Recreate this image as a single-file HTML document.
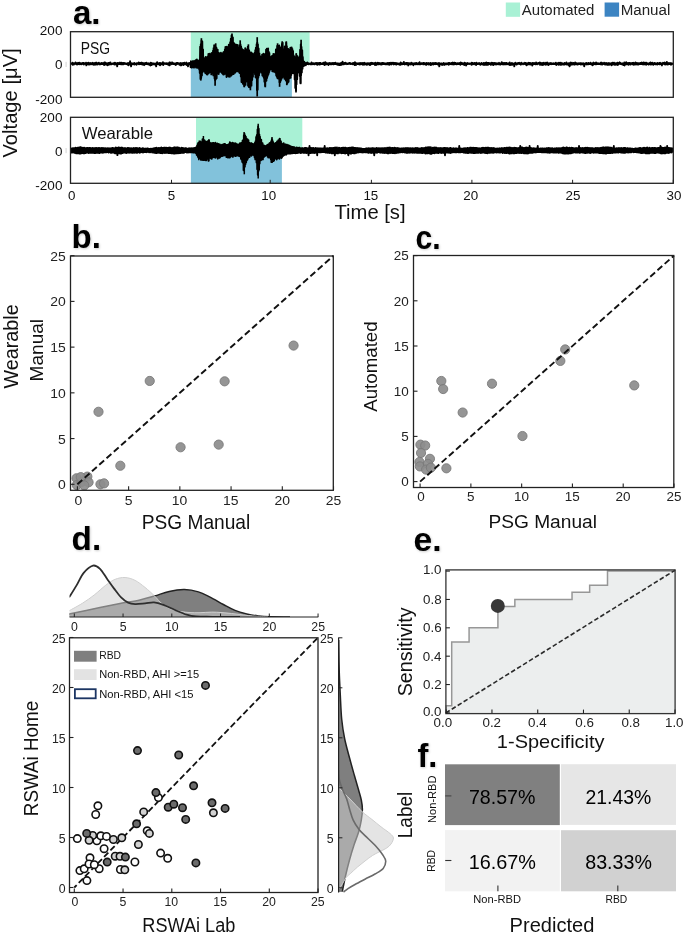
<!DOCTYPE html>
<html><head><meta charset="utf-8"><title>figure</title>
<style>
html,body{margin:0;padding:0;background:#fff;}
svg{display:block;will-change:transform;}
text{font-family:"Liberation Sans", sans-serif;}
</style></head>
<body>
<svg width="685" height="934" viewBox="0 0 685 934">
<defs><filter id="sh" x="-20%" y="-20%" width="150%" height="150%"><feDropShadow dx="0.7" dy="0.8" stdDeviation="0.9" flood-color="#000" flood-opacity="0.22"/></filter></defs>
<rect width="685" height="934" fill="#fff"/>
<rect x="505.8" y="2.5" width="14.3" height="14.3" fill="#a9f1d5"/>
<text x="521.87" y="14.9" font-size="14.83" textLength="72.5" lengthAdjust="spacingAndGlyphs" fill="#222">Automated</text>
<rect x="604.6" y="2.5" width="14.5" height="14.2" fill="#3c84c2"/>
<text x="620.66" y="15.3" font-size="14.39" textLength="49.65" lengthAdjust="spacingAndGlyphs" fill="#222">Manual</text>
<text x="72.93" y="24.18" font-size="33.09" textLength="27.54" lengthAdjust="spacingAndGlyphs" font-weight="bold" filter="url(#sh)">a.</text>
<rect x="190.8" y="31.7" width="118.8" height="32" fill="#a9f1d5"/>
<rect x="190.8" y="63.7" width="101.1" height="33.6" fill="#82c2db"/>
<polyline fill="none" stroke="#000" stroke-width="1.9" stroke-linejoin="round" points="71,63.14 71.33,63.84 71.65,63.46 72.03,63.82 72.32,62.68 72.64,64.85 72.91,63.38 73.18,64.12 73.56,63.36 73.87,64.49 74.14,63.32 74.46,63.86 74.8,63.21 75.16,63.86 75.5,62.48 75.8,63.91 76.08,62.81 76.41,64.25 76.76,63.63 77.07,64.56 77.41,63.11 77.8,64.05 78.15,62.83 78.55,64.08 78.85,63.02 79.17,64.35 79.45,62.74 79.75,64.11 80.13,63.12 80.51,64.05 80.89,63.59 81.27,64.37 81.55,63.5 81.88,64.13 82.18,63.07 82.52,63.72 82.87,62.87 83.14,63.79 83.51,62.94 83.83,64.54 84.17,63.49 84.46,63.79 84.73,63.35 85.04,63.7 85.42,63.44 85.73,63.95 86.01,62.59 86.34,65.39 86.62,63.44 86.9,64.13 87.29,63.36 87.56,63.77 87.95,63.09 88.26,64.47 88.63,62.67 88.92,63.93 89.32,63.04 89.68,64.66 90.01,63.61 90.31,63.83 90.67,63.07 91.06,63.89 91.37,63.62 91.67,64.17 92.05,63.33 92.42,64.34 92.77,62.81 93.1,64.32 93.46,63.16 93.78,64.73 94.17,63.64 94.45,64.1 94.82,63.01 95.18,64.68 95.51,63.63 95.86,63.78 96.25,62.58 96.54,64.24 96.84,63.65 97.16,64.58 97.55,63.29 97.93,64.28 98.32,62.95 98.58,63.71 98.87,62.62 99.2,63.73 99.53,63.36 99.9,64.41 100.24,63.7 100.57,64.23 100.93,63.14 101.27,64.07 101.62,62.99 102.01,63.94 102.39,63.26 102.78,63.88 103.06,63.23 103.36,64.19 103.71,63.43 104.07,65.08 104.35,62.53 104.74,64.86 105.07,62.56 105.39,63.78 105.7,63.52 105.96,64.24 106.29,63.16 106.62,63.77 107.01,63.31 107.31,65.41 107.68,63.66 108.06,64.04 108.36,62.9 108.72,64.89 108.99,63.46 109.38,64.34 109.74,62.67 110.12,64.35 110.43,62.39 110.71,64.19 111.01,63.42 111.3,63.95 111.6,63.67 111.89,64.25 112.16,63.7 112.49,63.82 112.82,63.44 113.14,63.82 113.52,63.14 113.91,64.19 114.28,63.47 114.59,64.6 114.87,62.8 115.16,64.17 115.53,63.08 115.83,64.41 116.16,63.34 116.55,64.3 116.88,63.65 117.19,66.34 117.51,62.99 117.84,63.82 118.14,63.18 118.4,64.06 118.7,63.06 119.05,64.11 119.43,63.29 119.71,64.08 120.06,62.59 120.41,64.04 120.78,63.23 121.15,64.32 121.53,62.6 121.88,64.4 122.15,63.32 122.53,64.16 122.87,63.06 123.14,64.41 123.5,62.95 123.77,63.72 124.07,63.28 124.36,63.93 124.75,63.11 125.11,63.72 125.45,63.55 125.75,63.91 126.06,63.61 126.35,63.74 126.71,63.47 127.04,64.19 127.32,63.38 127.7,63.97 128.03,63.02 128.33,65.27 128.72,63.5 129.05,64.54 129.33,63.39 129.69,64.41 130.07,61.28 130.4,63.71 130.7,63.35 131.08,66.34 131.44,63.54 131.8,63.98 132.1,63.28 132.44,64.17 132.76,63.67 133.14,63.91 133.52,63.7 133.81,64.22 134.2,62.87 134.59,64.5 134.92,63.66 135.25,63.91 135.6,63.66 135.88,63.9 136.19,63.41 136.49,64.73 136.79,63.13 137.08,63.93 137.46,63.27 137.85,63.71 138.14,63.61 138.41,63.97 138.71,62.55 139.03,64.28 139.36,63.31 139.66,64.12 139.94,62.85 140.24,63.72 140.53,63.17 140.91,64.12 141.18,62.77 141.5,63.91 141.77,62.63 142.14,64.65 142.44,63.43 142.79,63.94 143.15,63.08 143.49,64.6 143.86,63.55 144.16,65.17 144.46,63.09 144.73,64.47 145.07,63.37 145.34,64 145.66,62.86 145.99,63.94 146.29,62.78 146.55,63.95 146.91,63.29 147.29,63.95 147.56,63.37 147.85,64.29 148.21,63.29 148.52,63.71 148.81,63.52 149.2,64.8 149.49,63.6 149.88,64.38 150.2,63.32 150.47,65.44 150.78,62.69 151.18,64.52 151.49,63.14 151.75,65.12 152.07,63.32 152.33,64.12 152.64,63.4 152.93,63.79 153.31,63.42 153.63,64.33 154.02,63.5 154.29,64.29 154.66,63.68 154.93,63.89 155.23,63.68 155.53,65.11 155.87,63.63 156.17,66.34 156.54,62.96 156.8,64.17 157.13,62.25 157.43,64.14 157.76,63.35 158.12,63.88 158.49,63.28 158.8,64.07 159.07,63.37 159.34,64.74 159.68,62.92 160.08,65.34 160.35,63.12 160.67,64.14 160.99,63.04 161.37,64.38 161.65,63.43 161.96,64.16 162.25,63.69 162.63,64.2 162.94,62.2 163.23,64.95 163.58,63.42 163.96,63.72 164.34,63.21 164.63,63.84 164.97,63.17 165.29,63.97 165.66,63.43 166.01,63.8 166.32,63.44 166.66,64.05 166.95,63.16 167.24,63.74 167.53,63.49 167.81,64.5 168.15,63.53 168.5,63.92 168.8,63.17 169.14,65.23 169.46,62.36 169.75,65.38 170.04,62.4 170.41,63.75 170.8,63.35 171.13,63.8 171.52,62.98 171.85,64.19 172.15,62.33 172.48,63.9 172.87,63.6 173.26,64.02 173.53,63.16 173.88,63.99 174.16,63.6 174.54,64.16 174.83,63.58 175.14,64.35 175.44,63.5 175.78,65.09 176.05,63.54 176.38,63.98 176.69,63 177.04,64.12 177.36,62.87 177.65,63.83 178.02,63.33 178.3,63.81 178.62,63.15 178.89,64.09 179.17,63.59 179.44,64.84 179.75,63.39 180.15,63.81 180.52,63.11 180.91,65.45 181.19,63.37 181.5,65.18 181.79,63.31 182.07,64.02 182.46,63.58 182.76,64.2 183.05,62.95 183.43,65.01 183.8,63.14 184.11,64.24 184.45,62.6 184.84,64.36 185.16,63.56 185.5,64.19 185.87,63.35 186.14,63.85 186.43,62.58 186.79,65.16 187.05,63.36 187.37,63.78 187.75,63.41 188.02,66.34 188.33,63.25 188.67,64.08 188.96,63.21 189.35,64.23 189.63,62.99 190,64.23 190.3,62.66 190.61,67.06 190.93,61.32 191.29,67.48 191.68,61.84 192.01,67.54 192.31,61.75 192.67,66.92 193.01,60.98 193.29,67.04 193.64,61.22 193.99,67.63 194.27,61.3 194.58,66.63 194.96,60.79 195.32,66.56 195.69,60.14 196.02,67.51 196.34,60.17 196.62,67.02 196.89,59.56 197.25,67.68 197.63,60.35 197.93,67.62 198.25,60.62 198.58,67.79 198.93,60.49 199.22,69.38 199.49,61.16 199.78,72.94 200.17,46.59 200.48,79.02 200.79,44.12 201.17,77.99 201.53,40.74 201.92,75.37 202.29,41.42 202.67,72.08 203.03,49.35 203.33,70.39 203.68,58.03 204.07,70.71 204.33,58.12 204.72,71.68 205,58.44 205.27,73.07 205.62,57 205.98,71.72 206.32,57.11 206.69,74.38 207.08,57.22 207.45,74.5 207.84,56.54 208.13,71.88 208.4,54.03 208.77,73.33 209.15,54.37 209.45,71.6 209.73,53.82 210.02,72.13 210.34,55.87 210.63,72 210.99,54.64 211.3,74.42 211.63,52.89 211.98,71.92 212.29,52.74 212.66,73.29 213.02,50.72 213.31,75.4 213.59,48.13 213.87,74.71 214.16,45.17 214.56,78.46 214.88,46.34 215.25,80.32 215.58,47.05 215.96,79.11 216.35,47.61 216.64,78.26 216.97,49.09 217.32,72.82 217.68,49.6 218.05,73.52 218.36,53.44 218.68,73.96 218.95,52.92 219.22,71.68 219.52,53.56 219.85,71.86 220.23,55.17 220.56,71.91 220.92,52.79 221.27,71.6 221.58,54.13 221.95,72.93 222.31,53.38 222.64,73.75 222.98,52.92 223.3,74.59 223.6,52.06 223.9,74.45 224.28,51.66 224.56,73.31 224.87,49.52 225.15,73.9 225.44,46.88 225.8,73.43 226.19,50.46 226.51,77.11 226.88,46.7 227.2,74.5 227.55,49.42 227.84,75.6 228.11,47.22 228.47,76.6 228.8,44.64 229.13,74.17 229.47,44.85 229.83,76.77 230.16,42.25 230.52,74.65 230.81,38.67 231.19,75.62 231.55,35.4 231.9,74.82 232.23,39.83 232.57,72.69 232.89,37.45 233.25,74.17 233.55,42.59 233.87,73.86 234.19,43.51 234.58,72.09 234.93,44.1 235.24,72.61 235.64,49.09 235.97,71.24 236.34,44.59 236.67,70.69 237.01,46.69 237.37,71.33 237.72,45.04 238.05,70.66 238.44,48.36 238.79,71.8 239.16,47.35 239.55,73.01 239.82,45.35 240.14,73.03 240.46,44.43 240.82,76.6 241.12,46.49 241.48,81.94 241.81,48.41 242.18,80.51 242.47,50.98 242.84,83.86 243.19,49.94 243.52,81.23 243.92,50.93 244.26,86.05 244.64,50.39 244.94,83.63 245.22,48.24 245.53,84.87 245.83,49.81 246.13,81.63 246.42,51.15 246.77,80.13 247.07,49.16 247.4,81.42 247.75,46.74 248.06,85.67 248.44,49.49 248.81,86.99 249.18,50.48 249.55,86.47 249.82,52.29 250.21,87.48 250.5,52.73 250.79,83.41 251.15,52.42 251.44,85.65 251.8,53.75 252.19,80.01 252.55,53.45 252.93,76.84 253.31,56.83 253.67,72.15 254.03,54.02 254.41,71.59 254.71,52.72 254.99,74.36 255.26,50.09 255.54,77.15 255.87,47.81 256.25,78.02 256.63,44.32 256.96,89.92 257.34,42.65 257.66,89.62 257.93,44.56 258.28,77.8 258.63,48.47 259.01,75.36 259.41,53.39 259.73,72.83 260,56.05 260.35,69.1 260.73,57.32 261.05,71.22 261.42,56.99 261.74,72.63 262.08,54.72 262.38,75.6 262.7,54.91 263,76.02 263.39,53.7 263.76,77.81 264.06,54.13 264.41,81.64 264.77,54.35 265.13,85.89 265.47,53.68 265.77,79.29 266.06,49.63 266.41,80.81 266.77,48.81 267.12,77.9 267.47,48.93 267.81,75.84 268.1,48.35 268.42,74.34 268.7,51.67 268.97,72.77 269.36,52.9 269.67,70.82 270.04,56.56 270.33,68.05 270.65,58.51 270.97,69.06 271.36,58.33 271.7,68.76 271.98,56.06 272.32,71.26 272.64,57.26 272.96,71.3 273.35,53.99 273.67,71.66 273.95,54.23 274.24,71.52 274.51,55.6 274.86,72.04 275.25,53.69 275.63,72.81 275.9,49.55 276.2,75.52 276.48,51.16 276.85,76.69 277.23,45.87 277.5,78.26 277.86,46.54 278.25,78.48 278.64,45.59 278.9,78.78 279.25,45.45 279.53,82.15 279.89,49.31 280.27,82.11 280.54,47.57 280.88,80.59 281.23,47.9 281.6,78.75 281.95,44 282.27,77.54 282.64,42.77 283,76.85 283.31,49.32 283.7,75.9 284.07,49.19 284.42,78.8 284.79,46.54 285.1,77.97 285.48,46.6 285.83,80.52 286.21,42.68 286.51,78.65 286.81,46.14 287.15,83.59 287.54,49.87 287.91,82.5 288.29,48.95 288.59,81.75 288.96,49.66 289.34,78.18 289.62,49.85 289.99,76.71 290.35,47.71 290.65,77.74 291,49.48 291.29,75.04 291.65,47.56 291.98,72.97 292.35,49.02 292.64,73.09 293.03,50.89 293.36,71.11 293.7,55.36 293.99,73.45 294.35,56.75 294.69,79.38 295.02,59 295.29,87.87 295.6,57.3 295.95,90.38 296.23,53.84 296.54,84.2 296.81,55.63 297.2,79.31 297.53,56.32 297.83,71.52 298.15,57.67 298.52,71.79 298.91,61.06 299.18,72.62 299.46,57.3 299.73,75.97 300.11,49.75 300.5,82.95 300.78,44.36 301.09,75.36 301.48,46.86 301.82,72.38 302.21,50.2 302.53,68.8 302.81,56.92 303.21,66.05 303.48,61.59 303.79,66.11 304.17,61.76 304.44,65.47 304.8,62.38 305.19,63.77 305.47,63.66 305.78,65.26 306.14,63.28 306.42,64.06 306.71,63.68 306.97,64.07 307.26,62.35 307.65,64.04 308.03,63.28 308.42,64.25 308.77,63.17 309.09,63.88 309.38,63.66 309.71,63.92 310.09,63.64 310.39,64.38 310.7,63.35 311.08,64.37 311.48,62.5 311.77,64.19 312.07,63.68 312.47,64.14 312.85,63.29 313.12,64.01 313.43,63.59 313.73,63.72 314,63.33 314.32,64.4 314.61,63.4 314.98,63.86 315.27,63.47 315.6,63.83 315.89,62.98 316.23,64.37 316.5,63.63 316.77,64.37 317.08,63.04 317.35,64.81 317.68,63.37 318.05,64.07 318.33,63.14 318.67,64.34 319,63 319.38,64.42 319.74,62.96 320.11,64.45 320.44,62.96 320.71,63.77 321,63.58 321.38,63.98 321.65,63.57 322,64.11 322.33,63.62 322.69,63.99 322.97,62.99 323.25,63.73 323.53,62.69 323.87,64.42 324.16,63.04 324.48,65.08 324.81,62.56 325.12,64.66 325.43,62.13 325.81,64.43 326.19,63.01 326.57,63.96 326.89,63.31 327.17,64.17 327.5,63.37 327.86,63.75 328.21,63.24 328.48,64.98 328.78,63.49 329.16,64.18 329.46,63.06 329.76,63.79 330.11,63.11 330.44,64.31 330.77,63.36 331.05,63.78 331.37,63.59 331.71,64.18 332.05,62.91 332.41,64.11 332.74,63.18 333.04,64.18 333.37,63.1 333.68,64.29 333.98,63.04 334.37,63.97 334.74,63.58 335.06,63.91 335.38,62.78 335.67,64.1 336.03,63.39 336.38,64.19 336.76,63.38 337.12,64.42 337.45,63.49 337.73,64.71 337.99,63.62 338.39,64.57 338.7,63.44 339.02,65.01 339.34,63.62 339.68,64.24 339.99,63.43 340.31,64.95 340.61,63.21 340.89,64.38 341.2,63.06 341.49,64.75 341.87,63.51 342.2,63.71 342.57,61.72 342.9,64.27 343.21,63.19 343.6,64.39 343.94,63.22 344.27,64.07 344.66,63.02 345,63.87 345.31,62.61 345.62,63.93 345.99,63.41 346.34,63.73 346.74,63.22 347.04,64.15 347.37,63.55 347.72,64.09 348.11,63.58 348.48,63.85 348.83,63.18 349.18,63.71 349.47,62.93 349.82,63.71 350.21,63.14 350.5,64.01 350.77,63.4 351.15,63.94 351.52,63.61 351.82,63.74 352.13,63.47 352.52,64.15 352.83,63.13 353.21,63.9 353.6,62.92 353.87,64.04 354.25,63.19 354.55,65 354.94,62.22 355.26,63.75 355.55,63.25 355.92,64.95 356.21,63.46 356.51,64.03 356.79,63.12 357.06,63.84 357.43,63.43 357.73,64.1 358,63.42 358.36,64.22 358.66,63.54 359.03,64 359.32,63.12 359.71,64.54 360.1,63.27 360.38,63.71 360.68,63.05 360.97,64.22 361.27,63.48 361.6,63.94 361.97,63.04 362.27,64.34 362.55,63.18 362.9,64.85 363.24,63.24 363.51,64.29 363.81,63.03 364.12,64.45 364.49,62.81 364.79,64.58 365.14,63.41 365.49,64.23 365.79,63.38 366.08,64.2 366.46,63.6 366.73,64.74 367.02,63.51 367.33,64.31 367.62,63.28 367.91,64.43 368.27,63.68 368.63,63.72 368.9,63.2 369.2,64.42 369.57,63.37 369.84,65.12 370.16,63.68 370.44,64.94 370.76,62.86 371.13,64.13 371.45,62.82 371.78,64.04 372.07,63.69 372.44,63.9 372.77,62.85 373.07,63.88 373.38,63.36 373.66,63.93 374.01,63.67 374.34,64.19 374.65,63.32 374.99,65.01 375.36,62.72 375.71,64.03 376.03,63.58 376.34,64.94 376.63,63.24 376.98,63.9 377.26,63.39 377.55,64.36 377.81,62.69 378.17,63.75 378.51,63.16 378.8,64.18 379.07,62.94 379.45,64.16 379.75,63.69 380.12,64.06 380.42,63.36 380.81,64.57 381.17,63.22 381.46,64.65 381.77,63.18 382.14,64.31 382.41,62.92 382.77,64.08 383.16,62.99 383.46,63.73 383.74,63.56 384.13,64.06 384.4,63.33 384.66,63.86 385.04,63.55 385.39,64.38 385.71,63.36 386.08,64.3 386.37,63.51 386.68,64.38 386.95,63.4 387.34,64.36 387.73,62.88 388,63.92 388.35,63.47 388.67,64.52 388.98,63 389.27,64.84 389.59,62.94 389.93,64.19 390.26,63.14 390.55,63.96 390.89,62.78 391.16,64.55 391.46,62.93 391.8,63.76 392.13,63.49 392.41,63.84 392.78,62.79 393.06,64.03 393.42,62.79 393.71,64.44 394.05,63.65 394.32,64.05 394.63,62.89 394.94,63.78 395.26,63.06 395.59,64.29 395.97,63.21 396.34,64.65 396.71,63.28 397.1,64.14 397.37,63.48 397.74,63.88 398.13,63.49 398.45,64.15 398.79,63.61 399.16,63.79 399.5,63.47 399.78,64.67 400.12,63.29 400.38,64.81 400.66,62.47 400.93,63.71 401.31,63.44 401.59,64.3 401.91,63.12 402.21,64.35 402.6,63.55 402.91,63.8 403.25,63.27 403.59,64.1 403.85,61.98 404.14,64.19 404.44,63.6 404.78,64.47 405.17,63.54 405.53,63.71 405.9,63.12 406.2,64.4 406.58,62.85 406.94,64.08 407.28,63.33 407.59,64.16 407.9,62.9 408.21,65.47 408.51,63.51 408.89,63.99 409.21,63.23 409.48,63.93 409.79,63.59 410.1,64.53 410.44,63.37 410.83,63.9 411.2,62.6 411.53,64.28 411.83,63.69 412.13,63.84 412.42,63.37 412.8,63.96 413.09,63.54 413.36,65.39 413.74,63.52 414.08,64 414.43,63.33 414.79,63.91 415.11,63.46 415.42,64.24 415.77,63.34 416.07,64.36 416.33,63 416.61,64.08 416.97,63.57 417.25,63.96 417.52,63.45 417.87,64.34 418.22,63.26 418.51,64.05 418.88,63.62 419.27,64.26 419.57,62.28 419.84,63.93 420.19,63.61 420.48,64.32 420.76,63.38 421.09,63.76 421.38,63.16 421.66,63.93 422.05,63.62 422.35,63.84 422.68,63.34 423,64.16 423.38,62.93 423.73,64.37 424.11,62.97 424.5,64.01 424.84,63.63 425.16,64.2 425.46,63.65 425.85,64.65 426.19,63.03 426.49,64.8 426.86,63.59 427.24,64.28 427.6,63.16 427.98,64.12 428.36,63.03 428.65,64.58 429.04,63.66 429.43,63.84 429.82,63.12 430.11,64.57 430.38,62.98 430.76,64.95 431.03,63.6 431.3,64.86 431.59,63.44 431.99,63.83 432.37,63.19 432.69,64.22 433.04,63.11 433.32,64.57 433.65,63.21 434.04,64 434.4,63.65 434.68,64.11 435.01,63.05 435.27,64.16 435.62,62.97 436.02,63.93 436.38,63.27 436.77,64.04 437.08,63.42 437.35,63.9 437.73,63.68 438.03,64.61 438.31,63.12 438.58,64.66 438.89,63.24 439.28,66.34 439.64,63.26 440.04,64.33 440.38,63.68 440.7,64.34 441.04,63.46 441.38,64.22 441.73,63.58 442.08,65.14 442.41,63.64 442.75,64.06 443.08,63.53 443.45,64.15 443.8,63.1 444.07,64.94 444.44,63.57 444.74,64.01 445.05,63.46 445.33,64.46 445.72,63.48 446.09,64.38 446.38,63.45 446.67,64.27 446.98,63.62 447.32,63.78 447.61,63.6 447.9,64.22 448.18,62.91 448.5,64.69 448.84,63.57 449.16,63.84 449.46,62.97 449.77,64.22 450.11,63.35 450.47,63.9 450.82,63.59 451.14,63.92 451.46,62.87 451.81,64.35 452.13,63.37 452.51,64.28 452.84,62.57 453.2,63.79 453.47,63.37 453.84,64.46 454.13,62.71 454.41,64.27 454.75,62.84 455.07,64.04 455.43,63 455.8,64.13 456.08,63.33 456.48,64.39 456.78,63.52 457.11,64.17 457.43,63.21 457.8,63.88 458.1,63.64 458.42,63.91 458.74,63.2 459.03,64.02 459.37,63.2 459.69,63.88 460,63.54 460.35,64.86 460.7,62.34 461.08,64.13 461.4,63.58 461.67,63.86 461.96,63.01 462.29,64.1 462.64,63.58 462.92,64.14 463.22,63.48 463.61,63.87 463.96,63.64 464.24,65.13 464.6,62.59 464.89,64.03 465.2,63.38 465.5,63.84 465.79,63.18 466.06,65.46 466.41,63.57 466.73,64.52 467.05,63.57 467.33,63.99 467.73,63.01 468.04,64 468.37,63.46 468.74,63.82 469.08,63.42 469.46,63.89 469.76,63.56 470.15,63.78 470.54,63.59 470.86,63.88 471.22,63.24 471.49,64.75 471.77,62.69 472.1,64.07 472.43,62.99 472.77,64.25 473.08,63.51 473.47,64.04 473.85,63.22 474.12,64.24 474.4,62.95 474.73,63.72 475.06,63.12 475.38,63.73 475.66,63.62 476.04,65.03 476.43,62.63 476.78,63.79 477.15,63.43 477.46,64.13 477.77,63.5 478.06,63.88 478.43,63.65 478.77,63.93 479.04,63.02 479.35,64.39 479.68,63.62 479.99,63.75 480.27,63.67 480.55,64.77 480.84,63.56 481.23,64.14 481.6,63 481.98,63.8 482.33,63.43 482.7,64.58 483.06,63.49 483.41,64.02 483.69,63.03 484.05,65.07 484.42,63.15 484.79,64.08 485.09,62.98 485.37,63.9 485.74,63.69 486.03,64.96 486.33,62.38 486.68,63.77 487.05,63.45 487.42,64.66 487.7,63.04 488.04,64.73 488.41,63 488.69,63.72 489.01,63.17 489.3,64.15 489.68,63.33 489.98,64.07 490.3,63.12 490.65,64.72 491.03,63.51 491.34,64.18 491.72,62.71 492.05,64.59 492.38,63.31 492.66,63.73 492.93,63.04 493.3,65.12 493.61,63.08 493.94,64.2 494.33,63 494.67,64.31 495.07,63.12 495.38,64.44 495.73,63.11 496.13,64.13 496.5,63.39 496.86,64.47 497.22,63.7 497.5,63.88 497.89,63.2 498.16,64.39 498.52,63.39 498.82,64.12 499.14,62.83 499.49,63.83 499.89,63.47 500.17,64.68 500.54,63.55 500.88,64.29 501.16,63.67 501.43,64.1 501.75,62.19 502.05,64.05 502.34,63.42 502.64,64.34 502.96,63.24 503.34,63.82 503.71,63.02 504,64.57 504.32,62.86 504.62,64.05 505.01,63.21 505.31,63.8 505.58,63.34 505.97,64.46 506.26,63.01 506.61,64.05 506.99,63.3 507.38,64.06 507.73,63.61 508.09,64.35 508.41,63.51 508.79,64.28 509.12,63.07 509.43,64.94 509.75,62.52 510.09,63.72 510.43,63.53 510.8,64.96 511.16,63.68 511.54,64.48 511.91,62.96 512.27,64.79 512.61,63.66 512.99,63.94 513.28,63.66 513.67,63.99 513.98,63.63 514.29,66.34 514.64,63.39 514.96,64.11 515.33,62.6 515.62,64 515.93,63.32 516.3,64.45 516.68,63.43 517.04,64.46 517.37,63.51 517.73,63.81 518.05,62.9 518.43,63.77 518.8,63.18 519.07,63.84 519.35,62.82 519.68,63.99 519.97,63.3 520.33,64.01 520.65,63.4 520.95,64.67 521.31,62.71 521.69,63.88 522.05,63.32 522.43,63.87 522.77,63.65 523.12,64.32 523.43,63.34 523.81,63.81 524.13,63.47 524.5,63.89 524.89,62.78 525.27,64.32 525.55,63.04 525.84,64 526.23,63.34 526.55,65.24 526.86,63.26 527.13,64.87 527.47,63.64 527.84,63.76 528.11,63.13 528.41,64.22 528.8,62.84 529.09,63.79 529.41,63.06 529.7,64.24 530.04,63.08 530.31,64.48 530.58,63.1 530.94,63.82 531.29,63.46 531.67,64.4 531.95,63.57 532.26,65.64 532.63,63.04 532.91,64.51 533.28,63.51 533.67,63.75 534.02,62.92 534.32,64.1 534.59,63.69 534.94,64.01 535.31,63.32 535.68,64.38 536.07,62.52 536.44,63.72 536.78,62.8 537.06,64.36 537.36,63.64 537.63,63.75 538,63.4 538.29,63.79 538.57,62.95 538.84,63.82 539.22,63.54 539.52,63.95 539.81,62.38 540.07,64.83 540.35,63.41 540.67,64.53 541.02,62.9 541.39,64.88 541.76,63.67 542.14,63.86 542.52,63.08 542.88,65.13 543.18,63.39 543.5,64.18 543.85,62.77 544.25,64.16 544.55,63.7 544.84,64.38 545.23,63.21 545.61,64.7 545.94,62.81 546.29,64.45 546.63,63.35 546.98,63.78 547.36,62.58 547.75,64.5 548.05,63.39 548.35,65.1 548.74,63.41 549.1,64.33 549.46,63.7 549.81,64.21 550.11,62.85 550.46,63.91 550.82,63.63 551.08,63.93 551.37,63.16 551.72,64.2 552.09,63.58 552.41,63.97 552.73,63.66 553.04,63.99 553.31,63.49 553.68,64.12 553.98,63.31 554.26,63.73 554.6,63.5 554.88,64.05 555.19,63.25 555.47,64.4 555.84,62.64 556.2,64.94 556.57,63.69 556.85,64.33 557.22,63.57 557.51,64.33 557.8,63.27 558.13,64.12 558.4,63.11 558.67,64.78 558.95,62.78 559.23,63.96 559.51,63.62 559.79,64.41 560.11,62.99 560.41,64.03 560.75,62.64 561.02,64.93 561.36,63.68 561.65,64.1 561.95,63.1 562.22,64.04 562.53,63.45 562.81,64.64 563.14,63.66 563.47,63.79 563.79,63.66 564.12,64.52 564.47,63.03 564.84,64.64 565.15,63.39 565.49,63.94 565.77,63.67 566.05,63.87 566.41,62.46 566.76,64.48 567.15,63.63 567.54,64.45 567.94,63.39 568.23,64.02 568.55,63.47 568.87,65.36 569.22,63.12 569.6,66.34 569.94,63.67 570.3,64.43 570.59,62.58 570.88,64.85 571.22,63.54 571.5,63.85 571.83,62.63 572.2,64.45 572.5,63.12 572.89,63.94 573.15,63.58 573.53,64.23 573.87,63.06 574.2,64.67 574.5,63.26 574.88,64.43 575.17,62.55 575.46,64.35 575.75,63.65 576.11,64.33 576.47,63.21 576.84,64.22 577.16,63.28 577.45,64.63 577.82,63.63 578.11,64.4 578.5,63.34 578.81,63.98 579.18,63.4 579.48,64.04 579.76,63.17 580.1,64.08 580.44,63.12 580.73,64.51 580.99,63.54 581.39,64.05 581.76,63.16 582.15,64.43 582.52,63.55 582.86,64.18 583.24,63.36 583.57,63.93 583.87,63.65 584.23,66.34 584.52,63.61 584.79,64.74 585.18,63.36 585.51,63.77 585.83,63.24 586.11,63.77 586.38,63.04 586.75,64.42 587.06,63.31 587.4,63.72 587.68,63.49 587.98,64.31 588.35,63.03 588.7,64.19 589.07,63.67 589.41,63.99 589.7,63.45 590,63.86 590.32,62.75 590.67,63.92 590.98,63.11 591.36,64.48 591.67,63.45 591.96,64.14 592.33,63.38 592.64,65.33 593,62.92 593.27,64.01 593.55,62.57 593.84,64.26 594.17,63.13 594.51,63.78 594.78,63.16 595.08,63.98 595.37,63.41 595.74,64.38 596.06,62.43 596.34,64.38 596.69,63.67 597.07,63.88 597.4,63.33 597.76,64.08 598.08,63.18 598.47,64.04 598.78,63.66 599.05,64.05 599.38,63.52 599.75,64.05 600.06,63.38 600.34,64.04 600.7,62.68 601.09,64.6 601.39,62.76 601.67,63.93 602.06,62.83 602.36,64.45 602.69,63.36 602.99,63.72 603.35,63.49 603.73,64.06 604.07,62.67 604.45,63.77 604.76,63.05 605.07,64.69 605.38,63.49 605.76,63.92 606.11,62.93 606.5,64.42 606.89,63.56 607.19,64.8 607.5,63.53 607.81,64 608.12,63.05 608.4,64.76 608.77,63.31 609.14,64.56 609.47,63.14 609.85,64.68 610.16,63.7 610.42,64 610.72,63.5 611.01,63.81 611.32,63.21 611.67,65.25 612,62.9 612.38,64.33 612.66,62.73 612.98,64.35 613.36,63.49 613.68,64.09 614.03,62.75 614.37,64.73 614.73,63.46 615.1,63.82 615.42,63.53 615.71,64.77 616.1,63.16 616.49,63.96 616.79,63.23 617.13,64.64 617.48,62.76 617.82,65 618.11,63.05 618.49,64.15 618.87,63.67 619.26,63.84 619.65,62.3 619.93,63.8 620.3,62.97 620.6,64.11 620.93,63.44 621.24,63.76 621.6,63.66 621.89,64.21 622.27,63.46 622.64,64.54 622.99,63.54 623.27,64.95 623.59,63.5 623.94,63.83 624.27,62.35 624.63,65.46 624.92,63.37 625.23,64.28 625.52,63.36 625.85,63.92 626.18,62.19 626.56,64.35 626.85,63.42 627.13,63.9 627.52,63.24 627.83,64.05 628.15,63 628.41,64.78 628.77,63.18 629.09,64.44 629.39,62.86 629.78,64.03 630.09,63.06 630.45,64.64 630.84,63.12 631.11,63.9 631.48,63.17 631.81,63.8 632.2,63.26 632.54,64.36 632.85,63.07 633.15,64.29 633.47,62.83 633.77,64.81 634.14,63.2 634.43,64.55 634.8,63.44 635.1,64.08 635.46,62.46 635.84,64.55 636.23,63.34 636.61,63.87 636.88,62.99 637.27,64.49 637.55,63.61 637.89,63.8 638.18,63.35 638.57,64.52 638.96,63.15 639.26,63.96 639.65,63.6 639.94,64.09 640.3,63.01 640.57,63.99 640.94,63.11 641.28,64.03 641.6,62.58 641.93,64.16 642.22,63.01 642.59,64.38 642.92,62.62 643.28,63.74 643.64,62.41 644.02,64.61 644.33,63.36 644.7,64.07 645.07,62.78 645.43,63.76 645.78,63.05 646.08,64.79 646.35,62.78 646.72,64.17 647.1,63.15 647.38,64.06 647.65,63.65 647.98,64.02 648.27,63.59 648.6,64.65 648.9,63.42 649.28,64.14 649.68,62.99 650.04,64.08 650.42,62.5 650.7,64.64 650.98,63.61 651.32,63.9 651.6,63.32 651.97,64.19 652.3,62.69 652.57,64.37 652.89,63.51 653.28,64.75 653.56,63.58 653.89,64.01 654.18,63.08 654.47,64.02 654.77,63.01 655.13,64.2 655.47,63.3 655.85,64.27 656.21,63.69 656.58,64.18 656.96,63.21 657.28,64.55 657.56,63.01 657.88,63.84 658.24,63.4 658.55,63.91 658.95,63.19 659.26,64.37 659.57,63.3 659.87,63.78 660.21,62.83 660.6,64.02 660.93,63.11 661.28,64.45 661.67,63.64 661.93,65.47 662.22,63.4 662.58,63.72 662.96,62.79 663.23,63.75 663.55,63.19 663.81,63.81 664.2,62.75 664.49,64.36 664.86,62.57 665.24,64.61 665.55,63.1 665.82,63.84 666.21,62.93 666.5,64.4 666.85,61.85 667.19,64.31 667.48,63.59 667.86,64.53 668.15,63.51 668.52,64.01 668.85,63.01 669.18,64.08 669.45,63.31 669.75,63.93 670.04,63.12 670.35,64.11 670.65,63.15 670.98,64.8 671.32,63.6 671.63,63.93 671.98,63.24 672.37,63.96 672.65,63.52"/>
<line x1="201.4" y1="63.7" x2="201.4" y2="38.2" stroke="#000" stroke-width="1.7"/>
<line x1="215.7" y1="63.7" x2="215.7" y2="43.3" stroke="#000" stroke-width="1.7"/>
<line x1="232" y1="63.7" x2="232" y2="33.6" stroke="#000" stroke-width="1.7"/>
<line x1="240.2" y1="63.7" x2="240.2" y2="40.3" stroke="#000" stroke-width="1.7"/>
<line x1="257.2" y1="63.7" x2="257.2" y2="37.2" stroke="#000" stroke-width="1.7"/>
<line x1="301.1" y1="63.7" x2="301.1" y2="39.8" stroke="#000" stroke-width="1.7"/>
<line x1="282.2" y1="63.7" x2="282.2" y2="41.3" stroke="#000" stroke-width="1.7"/>
<line x1="286.3" y1="63.7" x2="286.3" y2="41.3" stroke="#000" stroke-width="1.7"/>
<line x1="277.6" y1="63.7" x2="277.6" y2="43.3" stroke="#000" stroke-width="1.7"/>
<line x1="248.4" y1="63.7" x2="248.4" y2="44.3" stroke="#000" stroke-width="1.7"/>
<line x1="200.8" y1="63.7" x2="200.8" y2="80.6" stroke="#000" stroke-width="1.7"/>
<line x1="215.1" y1="63.7" x2="215.1" y2="85.7" stroke="#000" stroke-width="1.7"/>
<line x1="244.3" y1="63.7" x2="244.3" y2="87.3" stroke="#000" stroke-width="1.7"/>
<line x1="250.4" y1="63.7" x2="250.4" y2="90.3" stroke="#000" stroke-width="1.7"/>
<line x1="257.2" y1="63.7" x2="257.2" y2="96.5" stroke="#000" stroke-width="1.7"/>
<line x1="265.3" y1="63.7" x2="265.3" y2="87.3" stroke="#000" stroke-width="1.7"/>
<line x1="279.6" y1="63.7" x2="279.6" y2="86.8" stroke="#000" stroke-width="1.7"/>
<line x1="286.8" y1="63.7" x2="286.8" y2="85.2" stroke="#000" stroke-width="1.7"/>
<line x1="296" y1="63.7" x2="296" y2="92.4" stroke="#000" stroke-width="1.7"/>
<line x1="300.6" y1="63.7" x2="300.6" y2="84.2" stroke="#000" stroke-width="1.7"/>
<rect x="70.5" y="31.7" width="602.8" height="65.6" fill="none" stroke="#222" stroke-width="1.3"/>
<rect x="196" y="117.3" width="106.3" height="33" fill="#a9f1d5"/>
<rect x="190.9" y="150.3" width="91" height="33" fill="#82c2db"/>
<polyline fill="none" stroke="#000" stroke-width="1.9" stroke-linejoin="round" points="71,148.16 71.28,152.53 71.62,148.45 71.98,152.66 72.26,148.16 72.62,152.25 72.88,148.41 73.17,152.31 73.56,148.26 73.92,152.49 74.27,148.12 74.55,152.84 74.93,148.31 75.26,152.62 75.59,147.67 75.98,153.25 76.26,147.87 76.61,153.22 77.01,148.18 77.38,152.73 77.65,147.67 77.96,153.33 78.32,147.9 78.64,152.69 79,147.35 79.28,153.57 79.56,147.77 79.82,152.76 80.2,147.21 80.59,153.49 80.93,147.25 81.32,153.26 81.65,147.71 81.96,153.17 82.26,147.92 82.59,153.05 82.88,147.73 83.24,153.27 83.58,148.02 83.91,152.91 84.22,147.68 84.55,153.18 84.88,148.03 85.19,153.13 85.48,148.17 85.83,153 86.18,148.19 86.5,152.39 86.83,147.94 87.2,152.51 87.48,147.89 87.81,152.59 88.13,147.99 88.51,152.95 88.83,148.32 89.12,152.36 89.5,147.95 89.88,152.91 90.17,148.02 90.45,152.91 90.77,148.15 91.03,152.51 91.3,148.31 91.61,152.75 91.89,148.55 92.24,152.46 92.62,147.89 92.96,152.7 93.23,148.3 93.57,152.67 93.86,148.28 94.17,153.02 94.57,148.31 94.86,152.79 95.13,147.87 95.43,152.97 95.83,148.41 96.12,152.87 96.5,148.02 96.87,152.45 97.23,148.08 97.5,152.77 97.77,148.35 98.08,152.75 98.38,147.88 98.78,152.52 99.11,148.14 99.4,153.11 99.71,147.97 100.01,152.42 100.32,148.37 100.66,152.59 101.03,148.23 101.42,152.58 101.71,148.03 102.03,152.58 102.4,148.22 102.71,152.79 103,147.9 103.36,152.56 103.65,148.5 104,152.33 104.29,148.24 104.62,152.33 104.9,148.36 105.18,152.29 105.52,148.31 105.86,152.2 106.23,148.37 106.54,152.33 106.91,148.34 107.26,152.02 107.65,148.3 108.03,152.12 108.36,148.75 108.68,152.59 109.02,148.2 109.4,152.26 109.71,148.68 110.05,152.14 110.36,148.51 110.74,152.73 111.06,148.12 111.45,152.75 111.74,148.55 112.08,152.66 112.36,148.07 112.73,152.61 113.12,148.3 113.49,152.52 113.81,148.28 114.2,152.69 114.53,148.37 114.89,153.2 115.18,148.07 115.53,152.85 115.82,147.55 116.15,153.25 116.51,147.97 116.79,152.82 117.11,147.91 117.41,155.1 117.78,147.99 118.11,153.19 118.39,147.52 118.77,153.38 119.14,147.81 119.53,152.81 119.85,147.76 120.14,153.44 120.43,148.05 120.72,153.04 121.04,147.8 121.3,153.44 121.57,147.61 121.91,152.74 122.21,147.69 122.55,153.09 122.88,148.27 123.24,152.59 123.6,148.29 123.97,152.44 124.25,148.22 124.58,152.57 124.9,148.18 125.26,152.4 125.53,148.25 125.88,152.9 126.18,148.51 126.49,152.97 126.8,148.51 127.13,152.54 127.5,148.01 127.78,152.48 128.1,148.16 128.43,152.59 128.76,148.04 129.08,152.8 129.34,148.21 129.72,152.48 130.02,148.16 130.31,152.61 130.66,148.62 130.97,152.59 131.25,148.17 131.62,152.38 131.99,148.54 132.26,152.88 132.62,148.35 132.94,152.56 133.22,148.22 133.61,152.49 133.9,147.89 134.25,152.86 134.62,148.36 134.89,152.57 135.18,148.24 135.48,152.35 135.8,147.88 136.09,152.67 136.36,148.23 136.67,152.69 136.94,147.9 137.24,152.78 137.56,148.48 137.82,152.32 138.1,148.52 138.43,152.29 138.75,148.43 139.12,152.18 139.4,148 139.74,152.75 140.02,148.21 140.37,152.27 140.66,148.43 141,152.24 141.35,148.71 141.68,152.13 142.01,148.5 142.33,152.19 142.63,148.27 143.02,152.47 143.39,148.56 143.79,152.21 144.13,148.91 144.41,151.93 144.7,148.73 144.98,152.13 145.31,148.67 145.58,151.82 145.89,148.81 146.25,152.11 146.57,148.75 146.85,152.22 147.22,148.54 147.6,151.82 147.95,148.56 148.33,151.85 148.66,148.86 149.03,152.22 149.38,148.9 149.72,151.89 150,148.87 150.29,152.33 150.67,148.73 150.98,151.87 151.3,148.85 151.61,151.92 151.91,148.65 152.18,152.47 152.51,148.59 152.91,152.32 153.29,148.59 153.55,152.65 153.91,148.24 154.19,152.6 154.51,148.43 154.85,152.87 155.19,147.83 155.53,152.58 155.85,148.38 156.2,153.15 156.55,147.69 156.88,152.8 157.18,148.29 157.55,152.66 157.94,148.24 158.26,152.76 158.66,147.97 159.01,152.64 159.29,148.26 159.56,152.92 159.95,147.98 160.32,153.01 160.62,147.92 160.97,152.93 161.32,147.53 161.62,152.48 161.9,148 162.25,153.3 162.59,147.9 162.91,152.66 163.18,147.95 163.51,152.77 163.87,147.77 164.15,152.91 164.54,147.82 164.92,152.95 165.31,147.78 165.6,152.86 165.91,147.84 166.22,152.83 166.55,147.72 166.95,152.4 167.29,147.85 167.63,152.79 167.97,147.86 168.23,152.68 168.5,147.77 168.85,153.12 169.17,148.19 169.5,152.98 169.84,147.57 170.23,152.7 170.55,148.03 170.84,153.02 171.22,148.26 171.55,153.42 171.93,147.91 172.31,152.65 172.6,148.1 172.95,153.18 173.32,147.74 173.7,153.44 174.08,147.44 174.35,153.52 174.63,147.47 174.97,153.5 175.28,147.4 175.59,153.36 175.96,147.63 176.26,153.21 176.64,147.36 176.99,153.32 177.36,147.5 177.64,152.91 177.96,147.49 178.24,152.94 178.53,148.16 178.8,153.19 179.1,147.71 179.42,152.93 179.73,148.11 180.08,153.16 180.44,148.27 180.74,152.65 181.03,148.17 181.41,152.87 181.73,147.79 182.05,152.74 182.35,148.35 182.68,152.82 183,147.9 183.31,152.8 183.63,148.56 183.99,152.78 184.29,148.35 184.62,152.39 185,148.14 185.39,152.1 185.74,148.22 186.14,151.99 186.51,148.56 186.8,152.47 187.12,148.68 187.48,152.01 187.77,148.58 188.11,152.55 188.46,148.57 188.73,152.32 189.06,148.17 189.37,152.27 189.75,148.39 190.07,152.19 190.4,148.44 190.74,152.2 191.03,148.47 191.41,152.26 191.73,148.3 192,152.18 192.35,148.36 192.73,152.41 193.06,148.12 193.33,152.59 193.69,148.1 194.02,152.44 194.31,147.92 194.66,152.57 195.01,148 195.34,152.57 195.7,147.47 195.97,153.22 196.35,147.29 196.73,154.87 197.09,145.58 197.38,155.41 197.69,144.02 198,157.04 198.34,142.77 198.73,158.13 199.12,143.46 199.5,157.48 199.84,142.28 200.21,158.39 200.5,141.35 200.83,159.75 201.16,143.45 201.53,158.34 201.85,142.84 202.15,159.75 202.52,139.21 202.84,160.09 203.19,139.38 203.53,159.8 203.89,139.9 204.19,159.03 204.47,140.2 204.83,159.73 205.12,141.2 205.39,160.25 205.68,143.75 205.98,159.55 206.28,141.69 206.66,158.85 207.03,142 207.36,158.77 207.75,141.17 208.02,158.99 208.33,142.71 208.65,160.61 208.91,140.12 209.22,157.73 209.6,142.34 209.89,157.72 210.21,143.37 210.49,157.8 210.83,143.15 211.14,158.19 211.5,143.11 211.81,158.79 212.18,143.54 212.51,157.01 212.79,142.85 213.13,156.19 213.52,142.84 213.79,157.31 214.08,143.6 214.46,156.69 214.79,143.32 215.08,157.43 215.4,142.64 215.69,157.75 215.96,144.25 216.24,156.58 216.57,144.64 216.94,156.59 217.28,143.5 217.57,156.99 217.93,144.49 218.32,157.01 218.63,143.83 218.94,158.09 219.33,145.43 219.66,157.62 219.94,144.52 220.31,156.87 220.65,145.99 221.04,155.27 221.41,144.93 221.71,155.99 222.03,144.77 222.3,156.08 222.62,144.58 222.94,155.66 223.25,144.91 223.51,155.34 223.79,144.26 224.14,155.44 224.53,143.96 224.92,155.08 225.28,144.22 225.63,155.16 226.01,144.62 226.35,156.93 226.65,145.22 227.04,156.08 227.31,144.83 227.71,157.28 228,144.62 228.38,157.12 228.72,144.45 229.04,157.6 229.3,143.65 229.57,157.62 229.85,142.26 230.23,156.98 230.5,142.74 230.83,156.41 231.11,143.1 231.48,155.61 231.86,143.24 232.16,155.73 232.48,142.63 232.82,156.88 233.15,142.88 233.55,155.51 233.81,143.25 234.12,155.26 234.44,144.19 234.82,155.81 235.2,143.14 235.56,156.17 235.87,143.52 236.16,155.71 236.5,143.86 236.79,155.25 237.16,144.26 237.55,154.76 237.85,145.89 238.21,155.68 238.56,144.52 238.89,155.27 239.27,144.1 239.62,156.12 239.95,143.26 240.29,156.45 240.61,143.42 240.93,158.73 241.25,142.96 241.57,159.43 241.96,143.18 242.22,161.92 242.54,140.69 242.88,162.74 243.18,139.96 243.56,170.32 243.86,135.56 244.17,167.51 244.55,133.98 244.84,166.65 245.2,135.69 245.53,163.94 245.82,136.58 246.2,162.14 246.48,138.33 246.87,160.28 247.2,140.92 247.47,159.51 247.74,139.48 248.09,158 248.47,140.27 248.82,156.25 249.16,142.68 249.46,157.16 249.82,143.87 250.11,155.22 250.45,143.61 250.77,155.62 251.06,142.93 251.37,155.84 251.76,144.05 252.1,154.54 252.42,143.67 252.77,154.92 253.04,144.9 253.38,154.66 253.68,144.16 254.06,155.39 254.36,143.62 254.66,157.43 254.95,142.78 255.27,159.39 255.55,141.23 255.84,158.84 256.14,136.97 256.51,162.48 256.83,135.02 257.2,169.34 257.52,129.51 257.82,174.76 258.15,126.41 258.47,170.97 258.75,128.73 259.06,169.81 259.38,134.5 259.68,163.53 259.98,136.66 260.32,160.04 260.68,139.74 260.95,160.22 261.24,139.77 261.58,159.64 261.88,142.75 262.18,158.93 262.55,143.08 262.9,159.41 263.25,145.92 263.52,156.75 263.82,145.35 264.19,156.81 264.51,145.81 264.91,156.1 265.22,146.12 265.61,154.87 265.99,146.01 266.34,155.37 266.72,145.72 266.99,155.39 267.36,144.63 267.71,156.65 268.01,145.76 268.29,157.57 268.56,144.97 268.87,156.19 269.19,143.34 269.49,156.95 269.84,142.85 270.17,158.03 270.55,143.17 270.83,159.25 271.16,141.09 271.5,162.03 271.88,139.28 272.15,161.93 272.42,140.22 272.7,160.78 273.07,141.88 273.37,161.12 273.73,143.13 274.08,160.44 274.4,144.24 274.75,158.61 275.03,144.18 275.35,157.71 275.66,143.02 276,158.3 276.37,143.82 276.68,159.6 277.06,141.44 277.42,158.42 277.79,141.75 278.07,157.59 278.35,140.16 278.65,157.89 278.99,141.75 279.34,158.75 279.71,138.65 280.02,157.02 280.38,140.65 280.7,157.4 280.98,141.48 281.31,158.08 281.62,143.92 281.95,157.45 282.33,144.12 282.68,156.22 283.06,143.43 283.4,155.67 283.7,143.32 284.07,155.13 284.34,144.83 284.73,154.29 285.11,144.34 285.44,154.56 285.76,144.42 286.04,154.74 286.31,145.41 286.67,154.24 287.04,144.75 287.42,153.37 287.69,145.79 288.06,153.37 288.39,145.27 288.68,153.66 289.06,145.62 289.37,153.45 289.68,145.63 290.04,153.5 290.35,146.25 290.68,153.47 290.99,146.36 291.34,153.09 291.68,146.6 292.01,153.34 292.4,147.07 292.77,152.66 293.13,147.06 293.53,153.15 293.81,147.89 294.11,152.8 294.39,147.21 294.72,152.98 295.07,147.86 295.46,153.23 295.73,148.18 296.01,152.93 296.39,147.57 296.68,152.54 296.95,147.94 297.3,153 297.61,147.81 297.97,152.87 298.27,148.39 298.61,152.58 298.99,147.82 299.32,152.52 299.68,147.77 299.95,152.62 300.29,148.45 300.6,153.03 300.9,148.44 301.25,152.92 301.58,148.08 301.97,152.3 302.37,148.26 302.66,152.21 302.96,148.26 303.3,152.89 303.68,148.48 303.95,152.48 304.25,148.41 304.54,152.7 304.82,148.04 305.17,152.43 305.45,147.98 305.77,152.79 306.16,148.28 306.49,152.96 306.84,148.05 307.18,152.88 307.56,148.59 307.9,152.36 308.22,148.45 308.56,155.24 308.84,148.05 309.14,152.94 309.52,145.95 309.88,152.8 310.15,148.21 310.49,153.14 310.76,148 311.06,152.7 311.36,148.27 311.65,152.68 311.95,147.92 312.23,152.86 312.62,148.43 312.97,152.64 313.31,147.97 313.64,152.88 313.96,148.4 314.3,153.02 314.63,148.33 314.98,152.84 315.34,147.9 315.72,152.55 316.1,148.51 316.5,152.2 316.82,148.2 317.21,155.24 317.48,148.71 317.75,152.44 318.04,148.23 318.43,152.26 318.77,148.66 319.03,152.14 319.41,148.56 319.72,152.33 320,148.43 320.33,152.16 320.72,148.39 321.08,152.31 321.35,148.47 321.7,152.04 322.09,148.65 322.4,152.06 322.79,148.44 323.05,152.11 323.41,148.48 323.78,151.94 324.06,148.43 324.39,152.04 324.67,145.95 325.06,152.21 325.43,148.49 325.8,152.63 326.07,148.33 326.38,152.28 326.65,148.47 327.05,152.47 327.38,148.17 327.7,152.74 328.08,148.41 328.44,152.7 328.78,148.5 329.09,152.41 329.44,147.95 329.74,152.99 330.08,148.27 330.4,152.68 330.78,147.89 331.06,152.73 331.33,148.1 331.66,153.38 332.01,147.83 332.32,152.58 332.69,148.17 332.98,153.24 333.25,147.84 333.55,153 333.81,148.02 334.12,153.04 334.43,148.21 334.79,155.23 335.08,147.46 335.37,153.44 335.65,147.81 335.93,152.95 336.29,147.71 336.6,152.69 336.98,147.53 337.25,153.34 337.56,148.11 337.93,153.37 338.32,148.08 338.67,152.78 338.95,147.66 339.23,152.8 339.58,147.91 339.94,152.71 340.23,148.15 340.5,152.83 340.85,148.28 341.2,152.98 341.47,147.91 341.75,153.19 342.09,147.94 342.48,152.85 342.81,147.69 343.18,153 343.53,147.58 343.89,152.72 344.21,148.14 344.51,153.2 344.83,147.73 345.22,153.5 345.52,147.73 345.91,153.03 346.18,147.86 346.48,152.73 346.75,148.09 347.06,153.14 347.38,148.09 347.72,153.64 348.03,147.9 348.36,155.23 348.64,147.98 348.95,153.12 349.28,147.63 349.62,153.35 349.93,148.1 350.27,153.34 350.63,147.8 350.93,153.68 351.23,147.34 351.53,153.23 351.81,147.96 352.08,153.14 352.44,147.48 352.82,153.04 353.15,147.44 353.45,152.8 353.72,148.1 354.06,153.42 354.39,147.9 354.68,153.41 355.02,147.85 355.41,153.01 355.79,148.28 356.07,152.86 356.39,148.11 356.75,152.79 357.12,147.86 357.52,152.31 357.84,148.43 358.23,152.28 358.62,148.09 358.9,152.45 359.26,148.61 359.66,152.05 359.93,148.32 360.32,152.14 360.61,148.8 360.89,152.21 361.2,148.43 361.53,152.27 361.87,148.62 362.24,152.34 362.52,148.87 362.87,152.51 363.25,148.83 363.61,152.19 363.96,148.83 364.24,152.29 364.61,148.88 365.01,152.09 365.39,148.79 365.77,152.33 366.03,148.47 366.4,152.34 366.69,148.4 366.97,152.19 367.31,148.54 367.65,152.23 368.02,148.49 368.36,152.83 368.65,148.31 368.98,152.67 369.31,148.45 369.68,152.53 369.98,148.46 370.32,152.37 370.65,148.36 371.02,152.93 371.32,148.54 371.59,152.91 371.9,148.27 372.18,152.53 372.53,148.17 372.83,152.45 373.18,148.18 373.51,152.97 373.84,148.39 374.23,155.22 374.54,148.46 374.87,152.58 375.24,148.56 375.6,152.65 375.93,148.62 376.3,152.62 376.58,148.05 376.87,152.68 377.24,148.25 377.52,152.47 377.83,148.6 378.19,152.11 378.52,148.09 378.9,152.16 379.19,148.51 379.52,152.11 379.87,148.15 380.14,152.7 380.53,148.41 380.88,152.21 381.22,148.13 381.53,152.58 381.85,148.52 382.21,152.29 382.54,148.24 382.84,152.88 383.2,148.44 383.53,152.86 383.8,148.13 384.13,152.75 384.42,148.09 384.72,152.95 385.05,148.02 385.37,152.77 385.68,148.46 386.06,152.92 386.44,148.23 386.79,152.95 387.09,147.75 387.45,153.22 387.77,148.07 388.15,153.14 388.49,147.61 388.8,153.18 389.13,148.08 389.48,152.89 389.86,147.47 390.19,152.69 390.47,147.85 390.83,152.94 391.22,148.23 391.6,152.65 391.95,147.96 392.29,153.06 392.67,148.04 393.04,153.13 393.31,148.27 393.63,152.92 393.92,147.87 394.25,153.11 394.62,147.67 394.99,153.21 395.32,147.85 395.67,152.89 395.98,148.28 396.35,152.51 396.62,148.53 396.89,152.98 397.21,148.03 397.55,152.51 397.94,148.49 398.27,152.22 398.6,148.2 398.87,152.75 399.25,148.73 399.54,152.21 399.9,148.51 400.22,152.36 400.61,148.69 400.94,152.21 401.21,148.41 401.6,152.17 401.91,148.51 402.26,152.24 402.56,148.55 402.92,152.42 403.2,148.75 403.48,152.11 403.79,148.24 404.09,152.13 404.44,148.41 404.81,152.52 405.16,148.32 405.43,152.34 405.75,148.3 406.11,152.75 406.43,148.34 406.72,152.24 407.05,148 407.43,152.92 407.7,148.53 408.08,152.7 408.4,148.28 408.73,152.47 409.11,148.15 409.42,152.74 409.79,148.39 410.13,152.56 410.45,148.14 410.75,152.46 411.12,148.35 411.38,152.38 411.71,148.43 412.1,152.63 412.42,148.15 412.8,152.78 413.1,148.39 413.48,152.59 413.81,148.4 414.18,152.4 414.44,148.55 414.79,152.74 415.14,148.21 415.53,152.61 415.8,148.02 416.1,152.52 416.44,148.47 416.72,152.72 417.08,147.98 417.44,152.48 417.81,148.12 418.11,152.86 418.5,148.41 418.85,152.81 419.17,148.37 419.52,152.59 419.79,148.62 420.07,152.85 420.45,148.45 420.81,152.76 421.16,148.18 421.49,152.7 421.81,148.04 422.16,153.07 422.5,148.23 422.77,152.81 423.15,148.31 423.52,152.84 423.81,148.13 424.17,152.88 424.55,148.02 424.84,152.99 425.15,147.73 425.42,153.51 425.76,147.42 426.03,152.85 426.4,147.73 426.7,153.22 427.01,147.33 427.3,153.36 427.64,147.51 427.97,153.12 428.32,147.22 428.61,153.03 428.98,147.97 429.28,153.35 429.62,147.32 429.92,153.53 430.24,147.51 430.53,153.76 430.84,147.22 431.15,153.87 431.54,147.84 431.9,153.01 432.17,147.93 432.44,153.31 432.8,147.63 433.18,152.95 433.56,147.62 433.85,153.04 434.14,147.63 434.5,153.23 434.78,147.49 435.13,152.84 435.44,147.66 435.73,152.84 435.99,147.79 436.35,152.8 436.68,147.77 437.01,152.68 437.31,148.25 437.69,152.7 438.05,148.26 438.32,153.13 438.59,148.12 438.95,152.54 439.29,148.48 439.67,152.51 440.05,147.94 440.43,152.43 440.78,148.26 441.15,152.99 441.49,148.09 441.81,152.59 442.1,148.43 442.48,152.74 442.81,148.21 443.07,152.55 443.36,148.28 443.66,152.85 444.03,148.04 444.33,152.95 444.65,147.92 445,155.19 445.3,148.5 445.6,153.01 445.89,148.06 446.22,152.31 446.59,148.14 446.9,152.36 447.26,148.15 447.56,152.65 447.83,148.23 448.21,152.36 448.58,148.33 448.97,152.74 449.37,148.39 449.67,152.56 450.02,147.98 450.31,152.98 450.64,148.03 450.98,152.78 451.34,148.61 451.63,152.59 451.96,148.33 452.34,152.3 452.63,148.65 453.01,152.13 453.4,148.23 453.79,152.19 454.09,148.52 454.39,152.26 454.67,148.79 454.95,151.98 455.32,148.39 455.69,152.39 455.99,148.47 456.26,152.41 456.65,148.55 456.92,152.18 457.27,148.62 457.6,151.9 457.95,148.63 458.22,152.29 458.55,148.69 458.92,152.08 459.25,145.95 459.58,152.29 459.87,148.71 460.21,152.07 460.57,148.48 460.94,152.25 461.23,148.75 461.56,152.05 461.92,148.67 462.31,152.03 462.7,148.6 463.07,152.21 463.44,148.5 463.77,152.58 464.15,148.2 464.46,152.13 464.77,148.53 465.05,152.69 465.35,148.12 465.62,152.91 466,148.33 466.35,152.43 466.7,148.08 467,152.72 467.29,148 467.68,153.05 468.04,148.26 468.31,152.93 468.6,148.24 468.97,152.73 469.25,148.24 469.62,152.58 469.96,147.7 470.23,152.59 470.56,147.72 470.86,152.69 471.22,148.22 471.49,152.91 471.85,147.78 472.14,152.51 472.5,148.36 472.88,152.77 473.23,147.68 473.56,153.09 473.83,148 474.14,152.73 474.44,147.88 474.77,153.07 475.1,147.92 475.42,152.47 475.76,148.03 476.04,152.77 476.42,148.05 476.76,152.88 477.16,148.14 477.44,152.32 477.8,148.1 478.13,152.84 478.52,148.52 478.78,152.72 479.06,148.29 479.44,152.28 479.8,148.5 480.19,152.5 480.48,148.42 480.83,152.99 481.22,148.25 481.49,152.6 481.77,147.95 482.07,152.72 482.34,148.44 482.66,152.39 482.97,147.75 483.26,152.4 483.65,147.88 483.98,152.67 484.34,147.98 484.66,152.85 485,148.35 485.4,152.77 485.76,147.76 486.07,153.07 486.42,148.37 486.71,152.77 486.97,147.68 487.36,153.3 487.74,147.63 488.11,152.49 488.46,147.77 488.74,152.9 489.09,148.26 489.49,152.64 489.88,147.91 490.2,152.78 490.47,148.24 490.85,152.65 491.19,147.83 491.55,152.66 491.89,148.31 492.16,152.76 492.48,148.2 492.87,152.47 493.26,148.27 493.55,152.74 493.92,148.06 494.27,152.49 494.6,148.68 494.99,152.31 495.31,148.72 495.6,152.16 495.99,148.79 496.33,152.31 496.6,148.6 496.91,152.63 497.28,148.34 497.61,152.28 497.89,148.7 498.22,152.24 498.61,148.59 498.88,152.46 499.17,148.29 499.46,152.29 499.74,148.64 500.05,152.64 500.34,148.58 500.62,152.5 501.01,148.22 501.34,152.23 501.64,148.21 501.92,152.33 502.31,148.13 502.7,152.95 502.99,148.45 503.34,152.66 503.67,148.3 504.06,152.36 504.34,147.92 504.72,152.95 505.06,147.96 505.43,152.73 505.81,148.31 506.2,153.09 506.55,147.71 506.84,152.61 507.16,148.18 507.46,152.81 507.81,147.63 508.13,153.02 508.44,147.58 508.74,153.29 509.01,147.64 509.32,153.57 509.62,147.57 509.9,153.49 510.2,147.9 510.54,152.9 510.89,147.62 511.2,153.41 511.48,148.23 511.82,152.8 512.08,148.23 512.46,152.63 512.79,147.84 513.14,153.4 513.53,148.22 513.83,153.34 514.22,147.73 514.56,153.18 514.89,147.91 515.2,152.99 515.52,147.84 515.83,152.9 516.2,148.19 516.52,152.99 516.91,148.02 517.23,152.44 517.57,148.34 517.91,152.81 518.21,148.15 518.49,152.84 518.83,147.87 519.2,152.97 519.55,148.01 519.93,152.76 520.23,145.95 520.6,152.87 520.93,148.05 521.29,153.06 521.59,147.56 521.89,153.05 522.28,147.49 522.57,152.71 522.87,147.71 523.15,152.6 523.45,148.14 523.76,153.28 524.16,147.88 524.44,153.19 524.82,148.1 525.2,153.29 525.48,147.69 525.84,153.39 526.1,147.59 526.45,152.97 526.82,147.41 527.11,153.54 527.43,147.99 527.83,153.01 528.14,147.93 528.54,153.22 528.91,147.58 529.24,152.83 529.58,145.95 529.97,152.68 530.24,148.15 530.59,152.92 530.87,147.87 531.19,152.75 531.52,148.21 531.88,152.79 532.25,148.36 532.56,152.82 532.93,148.44 533.25,152.5 533.59,148.16 533.97,152.39 534.33,148.38 534.65,152 535.03,148.45 535.36,152.2 535.69,148.66 536.03,152.43 536.32,148.53 536.66,152.13 536.97,148.61 537.34,152.06 537.73,145.95 538.11,152.06 538.49,148.53 538.88,151.98 539.26,148.81 539.57,151.96 539.94,148.95 540.31,152.12 540.62,148.54 540.93,152.12 541.23,148.46 541.55,152.25 541.81,148.7 542.1,152.22 542.4,148.44 542.76,152.41 543.03,148.33 543.37,152.42 543.76,148.79 544.1,152.28 544.48,148.38 544.83,152.34 545.2,148.63 545.51,152.26 545.79,148.52 546.17,152.23 546.49,148.24 546.84,152.24 547.18,148.17 547.45,152.64 547.84,148.18 548.16,152.19 548.47,148.05 548.83,152.63 549.16,148.2 549.48,152.77 549.79,148.2 550.1,152.45 550.4,148.43 550.68,152.47 551.03,148.16 551.35,152.24 551.71,148.55 552.01,152.32 552.39,148.19 552.71,152.21 553.1,148.66 553.39,152.66 553.72,148.7 554.05,152.62 554.42,148.57 554.76,152.08 555.12,148.42 555.39,152.44 555.67,148.67 556,152.63 556.39,148.15 556.73,152.51 557.1,148.22 557.4,152.48 557.74,148.65 558.06,152.27 558.4,148.12 558.74,152.9 559.05,148.47 559.34,152.26 559.63,148.15 559.96,152.3 560.25,148.43 560.54,152.67 560.86,148.32 561.24,152.68 561.63,148.32 562,152.89 562.28,147.76 562.66,153.29 563,147.58 563.29,152.59 563.58,147.47 563.89,153.52 564.21,148.13 564.51,153.54 564.9,147.95 565.29,152.74 565.63,147.92 565.95,153.64 566.34,147.34 566.69,153.39 566.96,147.56 567.25,152.77 567.58,148.08 567.9,153.62 568.22,148.04 568.57,153.45 568.88,148.21 569.23,153.2 569.6,147.74 569.88,153.41 570.16,148.17 570.46,153.34 570.79,147.95 571.09,153.23 571.43,147.66 571.8,152.85 572.09,147.95 572.44,152.62 572.81,147.88 573.13,152.71 573.52,148.12 573.9,152.25 574.25,148.46 574.61,152.3 575.01,148.19 575.37,152.49 575.76,148.2 576.08,152.63 576.36,148.38 576.69,152.17 576.98,148.07 577.33,152.56 577.67,148.33 577.96,152.44 578.31,148.53 578.69,152.14 579.02,145.95 579.3,152.75 579.6,148.35 579.88,152.76 580.17,148.42 580.47,152.56 580.8,148.02 581.14,152.23 581.49,148.49 581.77,152.27 582.08,148.16 582.36,152.52 582.72,147.96 583.01,152.66 583.3,148.25 583.69,152.33 584.02,148.08 584.3,152.83 584.66,147.93 584.94,152.99 585.28,147.89 585.58,152.94 585.88,147.76 586.27,152.85 586.65,147.86 586.97,152.85 587.29,147.78 587.62,152.46 587.93,148.43 588.27,152.65 588.61,147.98 588.92,152.32 589.29,148.41 589.61,152.82 589.98,147.84 590.3,153.03 590.6,148.33 590.97,152.29 591.33,148.18 591.64,152.5 591.96,148.12 592.24,152.18 592.53,148.08 592.82,152.15 593.16,148.61 593.47,152.79 593.76,148.38 594.12,152.34 594.45,148.5 594.81,152.5 595.12,148.27 595.44,152.56 595.73,148.04 596.11,152.23 596.45,148.33 596.83,152.44 597.12,147.97 597.48,152.53 597.84,148.13 598.12,152.55 598.51,148.15 598.78,152.85 599.14,148.23 599.44,152.99 599.82,148.08 600.19,152.67 600.52,147.99 600.82,153.17 601.2,147.63 601.59,152.56 601.93,148.2 602.21,153.15 602.52,147.8 602.81,153.29 603.09,147.32 603.38,152.95 603.71,147.34 604.05,153.32 604.36,147.72 604.72,153.2 605.04,147.37 605.35,153.37 605.7,147.49 606.02,153.58 606.35,147.81 606.67,153.06 607.03,147.25 607.35,153.05 607.66,147.56 608,152.92 608.31,147.37 608.62,153.14 608.98,147.54 609.32,152.69 609.67,147.75 610.03,152.98 610.43,147.73 610.8,153.04 611.19,147.71 611.52,152.79 611.9,147.84 612.22,152.97 612.54,148.33 612.85,152.74 613.17,148.48 613.54,152.57 613.81,145.95 614.19,152.2 614.52,148.25 614.87,152.61 615.14,148.47 615.45,152.26 615.82,148.5 616.19,152.66 616.53,148.14 616.87,152.38 617.21,148.48 617.53,152.2 617.91,148.28 618.23,152.62 618.56,148.25 618.86,152.09 619.15,148.3 619.51,152.17 619.87,148.1 620.23,152.38 620.59,148.39 620.91,152.47 621.19,148.05 621.58,152.24 621.92,148.48 622.21,152.69 622.56,148.54 622.9,152.21 623.24,148 623.59,152.77 623.89,148.6 624.24,152.61 624.57,148.02 624.85,152.84 625.23,148 625.52,152.47 625.83,148.16 626.22,152.23 626.6,148.56 626.9,152.33 627.19,148.22 627.58,152.11 627.9,148.32 628.29,152.62 628.59,148.58 628.91,152.41 629.2,148.54 629.55,151.94 629.84,148.43 630.16,152.38 630.49,148.39 630.82,152.19 631.17,148.74 631.51,152.19 631.86,148.79 632.17,151.92 632.54,148.74 632.9,151.75 633.25,149.01 633.59,152.26 633.9,148.85 634.27,151.98 634.66,148.62 635.03,152.02 635.35,148.49 635.68,152.1 636.02,148.45 636.39,151.96 636.69,148.58 636.96,152.38 637.26,148.7 637.62,152.02 637.91,148.44 638.28,152.46 638.62,148.67 638.97,152.21 639.25,148.07 639.64,152.6 640,148.21 640.35,152.77 640.64,147.88 640.97,152.99 641.28,148.37 641.6,152.43 641.96,148.44 642.28,152.98 642.61,148.23 642.99,152.75 643.38,148.05 643.66,152.84 644.03,147.65 644.32,152.56 644.67,147.84 645.03,152.74 645.35,148.16 645.64,153.28 645.96,147.89 646.24,153.19 646.58,147.96 646.87,153.25 647.15,147.54 647.45,152.68 647.81,148.26 648.17,153.28 648.49,148.23 648.87,152.75 649.24,147.58 649.56,153.21 649.86,148.33 650.2,152.63 650.54,148.24 650.92,152.77 651.26,148.17 651.62,152.86 651.92,147.87 652.23,152.86 652.55,148 652.9,152.81 653.18,148.14 653.51,152.84 653.89,148 654.17,153.07 654.52,147.83 654.84,152.47 655.19,147.85 655.53,153.15 655.79,148.11 656.16,152.56 656.52,148.27 656.86,152.5 657.22,148.22 657.5,152.54 657.85,147.9 658.14,152.48 658.45,148.03 658.83,152.72 659.17,148.09 659.47,152.77 659.82,147.73 660.1,153.06 660.44,145.95 660.71,153.29 660.98,148.08 661.36,152.84 661.63,147.49 661.98,153.47 662.36,147.95 662.75,152.82 663.13,148.07 663.5,153.09 663.82,147.89 664.12,153.34 664.5,147.62 664.8,152.51 665.18,147.54 665.48,153.31 665.79,147.62 666.14,152.68 666.43,148.19 666.77,152.65 667.15,145.95 667.42,152.79 667.75,148.47 668.1,152.7 668.48,147.85 668.86,152.96 669.2,148.32 669.48,152.32 669.82,147.98 670.08,152.39 670.36,148.34 670.74,152.29 671.13,148.11 671.43,152.47 671.79,148.34 672.15,152.22 672.42,148.45 672.73,152.16"/>
<line x1="203.4" y1="150.3" x2="203.4" y2="136" stroke="#000" stroke-width="1.5"/>
<line x1="244.1" y1="150.3" x2="244.1" y2="131.9" stroke="#000" stroke-width="1.5"/>
<line x1="258.2" y1="150.3" x2="258.2" y2="123.7" stroke="#000" stroke-width="1.5"/>
<line x1="272" y1="150.3" x2="272" y2="137" stroke="#000" stroke-width="1.5"/>
<line x1="279.6" y1="150.3" x2="279.6" y2="138" stroke="#000" stroke-width="1.5"/>
<line x1="244.3" y1="150.3" x2="244.3" y2="174.3" stroke="#000" stroke-width="1.5"/>
<line x1="258.2" y1="150.3" x2="258.2" y2="178.4" stroke="#000" stroke-width="1.5"/>
<line x1="271.5" y1="150.3" x2="271.5" y2="163" stroke="#000" stroke-width="1.5"/>
<line x1="199.3" y1="150.3" x2="199.3" y2="140.5" stroke="#000" stroke-width="1.5"/>
<line x1="209" y1="150.3" x2="209" y2="139.5" stroke="#000" stroke-width="1.5"/>
<line x1="198.8" y1="150.3" x2="198.8" y2="160.2" stroke="#000" stroke-width="1.5"/>
<line x1="203.9" y1="150.3" x2="203.9" y2="161" stroke="#000" stroke-width="1.5"/>
<line x1="206.6" y1="150.3" x2="206.6" y2="161.2" stroke="#000" stroke-width="1.5"/>
<line x1="208.6" y1="150.3" x2="208.6" y2="161.5" stroke="#000" stroke-width="1.5"/>
<line x1="211.2" y1="150.3" x2="211.2" y2="159.2" stroke="#000" stroke-width="1.5"/>
<line x1="217.7" y1="150.3" x2="217.7" y2="159.5" stroke="#000" stroke-width="1.5"/>
<line x1="227.8" y1="150.3" x2="227.8" y2="158.2" stroke="#000" stroke-width="1.5"/>
<rect x="70.5" y="117.3" width="602.8" height="66" fill="none" stroke="#222" stroke-width="1.3"/>
<text x="80.76" y="53.6" font-size="16.42" textLength="29.27" lengthAdjust="spacingAndGlyphs" fill="#111">PSG</text>
<text x="81.73" y="138.6" font-size="17.11" textLength="71.21" lengthAdjust="spacingAndGlyphs" fill="#111">Wearable</text>
<line x1="70.5" y1="183.3" x2="70.5" y2="179.8" stroke="#222" stroke-width="1"/>
<text x="68.08" y="199.53" font-size="12.4" textLength="7.45" lengthAdjust="spacingAndGlyphs" fill="#111">0</text>
<line x1="171.5" y1="183.3" x2="171.5" y2="179.8" stroke="#222" stroke-width="1"/>
<text x="167.79" y="199.53" font-size="12.4" textLength="7.45" lengthAdjust="spacingAndGlyphs" fill="#111">5</text>
<line x1="270.2" y1="183.3" x2="270.2" y2="179.8" stroke="#222" stroke-width="1"/>
<text x="261.2" y="199.53" font-size="12.4" textLength="14.9" lengthAdjust="spacingAndGlyphs" fill="#111">10</text>
<line x1="371.4" y1="183.3" x2="371.4" y2="179.8" stroke="#222" stroke-width="1"/>
<text x="363.42" y="199.53" font-size="12.4" textLength="14.9" lengthAdjust="spacingAndGlyphs" fill="#111">15</text>
<line x1="471.9" y1="183.3" x2="471.9" y2="179.8" stroke="#222" stroke-width="1"/>
<text x="463.28" y="199.53" font-size="12.4" textLength="14.9" lengthAdjust="spacingAndGlyphs" fill="#111">20</text>
<line x1="572.6" y1="183.3" x2="572.6" y2="179.8" stroke="#222" stroke-width="1"/>
<text x="565.5" y="199.53" font-size="12.4" textLength="14.9" lengthAdjust="spacingAndGlyphs" fill="#111">25</text>
<line x1="673.3" y1="183.3" x2="673.3" y2="179.8" stroke="#222" stroke-width="1"/>
<text x="666.56" y="199.53" font-size="12.4" textLength="14.9" lengthAdjust="spacingAndGlyphs" fill="#111">30</text>
<line x1="66.1" y1="61.8" x2="66.1" y2="67" stroke="#d0d0d0" stroke-width="0.9"/>
<line x1="66.1" y1="148" x2="66.1" y2="153.2" stroke="#d0d0d0" stroke-width="0.9"/>
<text x="39.85" y="34.89" font-size="12.3" textLength="22.57" lengthAdjust="spacingAndGlyphs" fill="#111">200</text>
<text x="54.9" y="69.19" font-size="12.3" textLength="7.52" lengthAdjust="spacingAndGlyphs" fill="#111">0</text>
<text x="35.35" y="104.09" font-size="12.3" textLength="27.08" lengthAdjust="spacingAndGlyphs" fill="#111">-200</text>
<text x="39.85" y="121.69" font-size="12.3" textLength="22.57" lengthAdjust="spacingAndGlyphs" fill="#111">200</text>
<text x="54.9" y="155.69" font-size="12.3" textLength="7.52" lengthAdjust="spacingAndGlyphs" fill="#111">0</text>
<text x="35.35" y="189.79" font-size="12.3" textLength="27.08" lengthAdjust="spacingAndGlyphs" fill="#111">-200</text>
<text x="17.1" y="157.49" font-size="20.35" textLength="109.21" lengthAdjust="spacingAndGlyphs" fill="#111" transform="rotate(-90 17.1 157.49)">Voltage [μV]</text>
<text x="334.45" y="218.7" font-size="19.48" textLength="71.18" lengthAdjust="spacingAndGlyphs" fill="#111">Time [s]</text>
<circle cx="98.5" cy="411.78" r="4.6" fill="#8d8d8d" fill-opacity="0.93" stroke="#7b7b7b" stroke-width="0.9"/>
<circle cx="149.73" cy="380.96" r="4.6" fill="#8d8d8d" fill-opacity="0.93" stroke="#7b7b7b" stroke-width="0.9"/>
<circle cx="120.33" cy="465.74" r="4.6" fill="#8d8d8d" fill-opacity="0.93" stroke="#7b7b7b" stroke-width="0.9"/>
<circle cx="180.57" cy="447.26" r="4.6" fill="#8d8d8d" fill-opacity="0.93" stroke="#7b7b7b" stroke-width="0.9"/>
<circle cx="100.45" cy="484.3" r="4.6" fill="#8d8d8d" fill-opacity="0.93" stroke="#7b7b7b" stroke-width="0.9"/>
<circle cx="104.04" cy="483.39" r="4.6" fill="#8d8d8d" fill-opacity="0.93" stroke="#7b7b7b" stroke-width="0.9"/>
<circle cx="293.57" cy="345.57" r="4.6" fill="#8d8d8d" fill-opacity="0.93" stroke="#7b7b7b" stroke-width="0.9"/>
<circle cx="224.62" cy="381.33" r="4.6" fill="#8d8d8d" fill-opacity="0.93" stroke="#7b7b7b" stroke-width="0.9"/>
<circle cx="218.68" cy="444.61" r="4.6" fill="#8d8d8d" fill-opacity="0.93" stroke="#7b7b7b" stroke-width="0.9"/>
<circle cx="76.58" cy="478.26" r="4.6" fill="#8d8d8d" fill-opacity="0.93" stroke="#7b7b7b" stroke-width="0.9"/>
<circle cx="76.79" cy="485.03" r="4.6" fill="#8d8d8d" fill-opacity="0.93" stroke="#7b7b7b" stroke-width="0.9"/>
<circle cx="81.5" cy="482.01" r="4.6" fill="#8d8d8d" fill-opacity="0.93" stroke="#7b7b7b" stroke-width="0.9"/>
<circle cx="87.34" cy="476.62" r="4.6" fill="#8d8d8d" fill-opacity="0.93" stroke="#7b7b7b" stroke-width="0.9"/>
<circle cx="88.57" cy="482.29" r="4.6" fill="#8d8d8d" fill-opacity="0.93" stroke="#7b7b7b" stroke-width="0.9"/>
<circle cx="84.26" cy="485.4" r="4.6" fill="#8d8d8d" fill-opacity="0.93" stroke="#7b7b7b" stroke-width="0.9"/>
<circle cx="80.78" cy="477.17" r="4.6" fill="#8d8d8d" fill-opacity="0.93" stroke="#7b7b7b" stroke-width="0.9"/>
<line x1="77.4" y1="484.3" x2="333.52" y2="255.68" stroke="#111" stroke-width="1.9" stroke-dasharray="6.5 3.26"/>
<rect x="70.5" y="256" width="262.8" height="234.3" fill="none" stroke="#222" stroke-width="1.3"/>
<line x1="77.4" y1="490.3" x2="77.4" y2="486.3" stroke="#222" stroke-width="1.1"/>
<line x1="70.5" y1="484.3" x2="74.5" y2="484.3" stroke="#222" stroke-width="1.1"/>
<text x="74.53" y="504.5" font-size="12.9" textLength="7.75" lengthAdjust="spacingAndGlyphs" fill="#222">0</text>
<text x="58.1" y="489.25" font-size="12.9" textLength="7.75" lengthAdjust="spacingAndGlyphs" fill="#222">0</text>
<line x1="128.62" y1="490.3" x2="128.62" y2="486.3" stroke="#222" stroke-width="1.1"/>
<line x1="70.5" y1="438.58" x2="74.5" y2="438.58" stroke="#222" stroke-width="1.1"/>
<text x="124.76" y="504.5" font-size="12.9" textLength="7.75" lengthAdjust="spacingAndGlyphs" fill="#222">5</text>
<text x="58.14" y="443.53" font-size="12.9" textLength="7.75" lengthAdjust="spacingAndGlyphs" fill="#222">5</text>
<line x1="179.85" y1="490.3" x2="179.85" y2="486.3" stroke="#222" stroke-width="1.1"/>
<line x1="70.5" y1="392.85" x2="74.5" y2="392.85" stroke="#222" stroke-width="1.1"/>
<text x="171.84" y="504.5" font-size="12.9" textLength="15.5" lengthAdjust="spacingAndGlyphs" fill="#222">10</text>
<text x="50.35" y="397.8" font-size="12.9" textLength="15.5" lengthAdjust="spacingAndGlyphs" fill="#222">10</text>
<line x1="231.07" y1="490.3" x2="231.07" y2="486.3" stroke="#222" stroke-width="1.1"/>
<line x1="70.5" y1="347.12" x2="74.5" y2="347.12" stroke="#222" stroke-width="1.1"/>
<text x="223.09" y="504.5" font-size="12.9" textLength="15.5" lengthAdjust="spacingAndGlyphs" fill="#222">15</text>
<text x="50.39" y="352.08" font-size="12.9" textLength="15.5" lengthAdjust="spacingAndGlyphs" fill="#222">15</text>
<line x1="282.3" y1="490.3" x2="282.3" y2="486.3" stroke="#222" stroke-width="1.1"/>
<line x1="70.5" y1="301.4" x2="74.5" y2="301.4" stroke="#222" stroke-width="1.1"/>
<text x="274.47" y="504.5" font-size="12.9" textLength="15.5" lengthAdjust="spacingAndGlyphs" fill="#222">20</text>
<text x="50.35" y="306.35" font-size="12.9" textLength="15.5" lengthAdjust="spacingAndGlyphs" fill="#222">20</text>
<line x1="333.52" y1="490.3" x2="333.52" y2="486.3" stroke="#222" stroke-width="1.1"/>
<line x1="70.5" y1="255.68" x2="74.5" y2="255.68" stroke="#222" stroke-width="1.1"/>
<text x="325.72" y="504.5" font-size="12.9" textLength="15.5" lengthAdjust="spacingAndGlyphs" fill="#222">25</text>
<text x="50.39" y="260.63" font-size="12.9" textLength="15.5" lengthAdjust="spacingAndGlyphs" fill="#222">25</text>
<text x="71.62" y="248.37" font-size="33.36" textLength="29.35" lengthAdjust="spacingAndGlyphs" font-weight="bold" filter="url(#sh)">b.</text>
<text x="141.73" y="529.2" font-size="20.2" textLength="108.55" lengthAdjust="spacingAndGlyphs" fill="#111">PSG Manual</text>
<text x="18" y="388.39" font-size="20.93" textLength="84.06" lengthAdjust="spacingAndGlyphs" fill="#111" transform="rotate(-90 18 388.39)">Wearable</text>
<text x="43" y="381.46" font-size="18.6" textLength="62.54" lengthAdjust="spacingAndGlyphs" fill="#111" transform="rotate(-90 43 381.46)">Manual</text>
<circle cx="441.32" cy="380.98" r="4.6" fill="#8d8d8d" fill-opacity="0.93" stroke="#7b7b7b" stroke-width="0.9"/>
<circle cx="443.15" cy="389.03" r="4.6" fill="#8d8d8d" fill-opacity="0.93" stroke="#7b7b7b" stroke-width="0.9"/>
<circle cx="492" cy="383.7" r="4.6" fill="#8d8d8d" fill-opacity="0.93" stroke="#7b7b7b" stroke-width="0.9"/>
<circle cx="462.65" cy="412.53" r="4.6" fill="#8d8d8d" fill-opacity="0.93" stroke="#7b7b7b" stroke-width="0.9"/>
<circle cx="522.46" cy="436.04" r="4.6" fill="#8d8d8d" fill-opacity="0.93" stroke="#7b7b7b" stroke-width="0.9"/>
<circle cx="446.4" cy="468.31" r="4.6" fill="#8d8d8d" fill-opacity="0.93" stroke="#7b7b7b" stroke-width="0.9"/>
<circle cx="420.4" cy="444.63" r="4.6" fill="#8d8d8d" fill-opacity="0.93" stroke="#7b7b7b" stroke-width="0.9"/>
<circle cx="425.18" cy="445.53" r="4.6" fill="#8d8d8d" fill-opacity="0.93" stroke="#7b7b7b" stroke-width="0.9"/>
<circle cx="421.01" cy="452.94" r="4.6" fill="#8d8d8d" fill-opacity="0.93" stroke="#7b7b7b" stroke-width="0.9"/>
<circle cx="419.49" cy="461.98" r="4.6" fill="#8d8d8d" fill-opacity="0.93" stroke="#7b7b7b" stroke-width="0.9"/>
<circle cx="419.9" cy="466.41" r="4.6" fill="#8d8d8d" fill-opacity="0.93" stroke="#7b7b7b" stroke-width="0.9"/>
<circle cx="429.95" cy="458.82" r="4.6" fill="#8d8d8d" fill-opacity="0.93" stroke="#7b7b7b" stroke-width="0.9"/>
<circle cx="428.02" cy="463.88" r="4.6" fill="#8d8d8d" fill-opacity="0.93" stroke="#7b7b7b" stroke-width="0.9"/>
<circle cx="426.09" cy="469.58" r="4.6" fill="#8d8d8d" fill-opacity="0.93" stroke="#7b7b7b" stroke-width="0.9"/>
<circle cx="430.86" cy="467.68" r="4.6" fill="#8d8d8d" fill-opacity="0.93" stroke="#7b7b7b" stroke-width="0.9"/>
<circle cx="565.21" cy="349.44" r="4.6" fill="#8d8d8d" fill-opacity="0.93" stroke="#7b7b7b" stroke-width="0.9"/>
<circle cx="560.34" cy="360.92" r="4.6" fill="#8d8d8d" fill-opacity="0.93" stroke="#7b7b7b" stroke-width="0.9"/>
<circle cx="634.27" cy="385.41" r="4.6" fill="#8d8d8d" fill-opacity="0.93" stroke="#7b7b7b" stroke-width="0.9"/>
<line x1="420.1" y1="481.6" x2="673.98" y2="255.6" stroke="#111" stroke-width="1.9" stroke-dasharray="6.4 3.23"/>
<rect x="413.5" y="255.5" width="260.3" height="232" fill="none" stroke="#222" stroke-width="1.3"/>
<line x1="420.1" y1="487.5" x2="420.1" y2="483.5" stroke="#222" stroke-width="1.1"/>
<line x1="413.5" y1="481.6" x2="417.5" y2="481.6" stroke="#222" stroke-width="1.1"/>
<text x="417.35" y="501.4" font-size="12.6" textLength="7.5" lengthAdjust="spacingAndGlyphs" fill="#222">0</text>
<text x="401.23" y="486.45" font-size="12.6" textLength="7.5" lengthAdjust="spacingAndGlyphs" fill="#222">0</text>
<line x1="470.88" y1="487.5" x2="470.88" y2="483.5" stroke="#222" stroke-width="1.1"/>
<line x1="413.5" y1="436.4" x2="417.5" y2="436.4" stroke="#222" stroke-width="1.1"/>
<text x="467.14" y="501.4" font-size="12.6" textLength="7.5" lengthAdjust="spacingAndGlyphs" fill="#222">5</text>
<text x="401.27" y="441.25" font-size="12.6" textLength="7.5" lengthAdjust="spacingAndGlyphs" fill="#222">5</text>
<line x1="521.65" y1="487.5" x2="521.65" y2="483.5" stroke="#222" stroke-width="1.1"/>
<line x1="413.5" y1="391.2" x2="417.5" y2="391.2" stroke="#222" stroke-width="1.1"/>
<text x="513.9" y="501.4" font-size="12.6" textLength="15" lengthAdjust="spacingAndGlyphs" fill="#222">10</text>
<text x="393.73" y="396.05" font-size="12.6" textLength="15" lengthAdjust="spacingAndGlyphs" fill="#222">10</text>
<line x1="572.42" y1="487.5" x2="572.42" y2="483.5" stroke="#222" stroke-width="1.1"/>
<line x1="413.5" y1="346" x2="417.5" y2="346" stroke="#222" stroke-width="1.1"/>
<text x="564.7" y="501.4" font-size="12.6" textLength="15" lengthAdjust="spacingAndGlyphs" fill="#222">15</text>
<text x="393.77" y="350.85" font-size="12.6" textLength="15" lengthAdjust="spacingAndGlyphs" fill="#222">15</text>
<line x1="623.2" y1="487.5" x2="623.2" y2="483.5" stroke="#222" stroke-width="1.1"/>
<line x1="413.5" y1="300.8" x2="417.5" y2="300.8" stroke="#222" stroke-width="1.1"/>
<text x="615.63" y="501.4" font-size="12.6" textLength="15" lengthAdjust="spacingAndGlyphs" fill="#222">20</text>
<text x="393.73" y="305.65" font-size="12.6" textLength="15" lengthAdjust="spacingAndGlyphs" fill="#222">20</text>
<line x1="673.98" y1="487.5" x2="673.98" y2="483.5" stroke="#222" stroke-width="1.1"/>
<line x1="413.5" y1="255.6" x2="417.5" y2="255.6" stroke="#222" stroke-width="1.1"/>
<text x="666.42" y="501.4" font-size="12.6" textLength="15" lengthAdjust="spacingAndGlyphs" fill="#222">25</text>
<text x="393.77" y="260.45" font-size="12.6" textLength="15" lengthAdjust="spacingAndGlyphs" fill="#222">25</text>
<text x="415.52" y="248.68" font-size="33.28" textLength="25.15" lengthAdjust="spacingAndGlyphs" font-weight="bold" filter="url(#sh)">c.</text>
<text x="488.43" y="528.3" font-size="18.75" textLength="108.55" lengthAdjust="spacingAndGlyphs" fill="#111">PSG Manual</text>
<text x="376.8" y="411.84" font-size="17.73" textLength="90.54" lengthAdjust="spacingAndGlyphs" fill="#111" transform="rotate(-90 376.8 411.84)">Automated</text>
<defs><clipPath id="ctop"><rect x="69.5" y="540" width="249" height="77"/></clipPath><clipPath id="cright"><rect x="338.5" y="637" width="60" height="256"/></clipPath></defs>
<g clip-path="url(#ctop)">
<path d="M69.1,614 C74.25,612.93 91.52,609.33 100,607.6 C108.48,605.87 113.33,604.87 120,603.6 C126.67,602.33 134.23,601.27 140,600 C145.77,598.73 149.73,597.43 154.6,596 C159.47,594.57 164.23,592.47 169.2,591.4 C174.17,590.33 179.53,589.52 184.4,589.6 C189.27,589.68 194.12,590.63 198.4,591.9 C202.68,593.17 205.93,595.1 210.1,597.2 C214.27,599.3 219.25,602.3 223.4,604.5 C227.55,606.7 231.12,608.83 235,610.4 C238.88,611.97 242.8,612.97 246.7,613.9 C250.6,614.83 254.52,615.52 258.4,616 C262.28,616.48 264.73,616.65 270,616.8 C275.27,616.95 286.67,616.88 290,616.9 L290,617.0 L69.1,617.0 Z" fill="#7f7f7f"/>
<path d="M69.1,614 C74.25,612.93 91.52,609.33 100,607.6 C108.48,605.87 113.33,604.87 120,603.6 C126.67,602.33 134.23,601.27 140,600 C145.77,598.73 149.73,597.43 154.6,596 C159.47,594.57 164.23,592.47 169.2,591.4 C174.17,590.33 179.53,589.52 184.4,589.6 C189.27,589.68 194.12,590.63 198.4,591.9 C202.68,593.17 205.93,595.1 210.1,597.2 C214.27,599.3 219.25,602.3 223.4,604.5 C227.55,606.7 231.12,608.83 235,610.4 C238.88,611.97 242.8,612.97 246.7,613.9 C250.6,614.83 254.52,615.52 258.4,616 C262.28,616.48 264.73,616.65 270,616.8 C275.27,616.95 286.67,616.88 290,616.9" fill="none" stroke="#222" stroke-width="1.5"/>
<path d="M69.1,610.8 C71.33,609.53 78.32,605.83 82.5,603.2 C86.68,600.57 90.3,598.02 94.2,595 C98.1,591.98 102.4,587.72 105.9,585.1 C109.4,582.48 112,580.57 115.2,579.3 C118.4,578.03 121.78,577.32 125.1,577.5 C128.42,577.68 131.78,578.75 135.1,580.4 C138.42,582.05 141.75,584.8 145,587.4 C148.25,590 152.1,593.57 154.6,596 C157.1,598.43 158.1,600.23 160,602 C161.9,603.77 163.83,605.3 166,606.6 C168.17,607.9 170.5,608.97 173,609.8 C175.5,610.63 178.17,611.13 181,611.6 C183.83,612.07 186.83,612.42 190,612.6 C193.17,612.78 196.38,612.78 200,612.7 C203.62,612.62 208.03,612.12 211.7,612.1 C215.37,612.08 218.12,612.3 222,612.6 C225.88,612.9 229.9,613.33 235,613.9 C240.1,614.47 247.1,615.5 252.6,616 C258.1,616.5 265.43,616.75 268,616.9 L268,617.0 L69.1,617.0 Z" fill="#cdcdcd" fill-opacity="0.55"/>
<path d="M69.1,610.8 C71.33,609.53 78.32,605.83 82.5,603.2 C86.68,600.57 90.3,598.02 94.2,595 C98.1,591.98 102.4,587.72 105.9,585.1 C109.4,582.48 112,580.57 115.2,579.3 C118.4,578.03 121.78,577.32 125.1,577.5 C128.42,577.68 131.78,578.75 135.1,580.4 C138.42,582.05 141.75,584.8 145,587.4 C148.25,590 152.1,593.57 154.6,596 C157.1,598.43 158.1,600.23 160,602 C161.9,603.77 163.83,605.3 166,606.6 C168.17,607.9 170.5,608.97 173,609.8 C175.5,610.63 178.17,611.13 181,611.6 C183.83,612.07 186.83,612.42 190,612.6 C193.17,612.78 196.38,612.78 200,612.7 C203.62,612.62 208.03,612.12 211.7,612.1 C215.37,612.08 218.12,612.3 222,612.6 C225.88,612.9 229.9,613.33 235,613.9 C240.1,614.47 247.1,615.5 252.6,616 C258.1,616.5 265.43,616.75 268,616.9" fill="none" stroke="#cfcfcf" stroke-width="1"/>
<path d="M69.1,597.4 C70.37,595.35 74.27,589.2 76.7,585.1 C79.13,581 80.98,576.05 83.7,572.8 C86.42,569.55 90.28,566.27 93,565.6 C95.72,564.93 97.67,566.62 100,568.8 C102.33,570.98 104.65,575.4 107,578.7 C109.35,582 111.75,585.48 114.1,588.6 C116.45,591.72 118.77,595.07 121.1,597.4 C123.43,599.73 125.77,601.48 128.1,602.6 C130.43,603.72 132.28,603.97 135.1,604.1 C137.92,604.23 141.85,603.68 145,603.4 C148.15,603.12 150.93,602.17 154,602.4 C157.07,602.63 159.9,603.53 163.4,604.8 C166.9,606.07 171.12,608.35 175,610 C178.88,611.65 183.2,613.62 186.7,614.7 C190.2,615.78 191.72,616.15 196,616.5 C200.28,616.85 205.07,616.73 212.4,616.8 C219.73,616.87 235.4,616.88 240,616.9" fill="none" stroke="#2e2e2e" stroke-width="1.8"/>
</g>
<line x1="69.5" y1="617" x2="318.3" y2="617" stroke="#222" stroke-width="1.2"/>
<line x1="74.3" y1="617" x2="74.3" y2="613.5" stroke="#222" stroke-width="1"/>
<text x="71.08" y="630.79" font-size="12.3" textLength="6.84" lengthAdjust="spacingAndGlyphs" fill="#222">0</text>
<line x1="123.05" y1="617" x2="123.05" y2="613.5" stroke="#222" stroke-width="1"/>
<text x="119.84" y="630.79" font-size="12.3" textLength="6.84" lengthAdjust="spacingAndGlyphs" fill="#222">5</text>
<line x1="171.8" y1="617" x2="171.8" y2="613.5" stroke="#222" stroke-width="1"/>
<text x="164.93" y="630.79" font-size="12.3" textLength="13.68" lengthAdjust="spacingAndGlyphs" fill="#222">10</text>
<line x1="220.55" y1="617" x2="220.55" y2="613.5" stroke="#222" stroke-width="1"/>
<text x="213.7" y="630.79" font-size="12.3" textLength="13.68" lengthAdjust="spacingAndGlyphs" fill="#222">15</text>
<line x1="269.3" y1="617" x2="269.3" y2="613.5" stroke="#222" stroke-width="1"/>
<text x="262.59" y="630.79" font-size="12.3" textLength="13.68" lengthAdjust="spacingAndGlyphs" fill="#222">20</text>
<line x1="318.05" y1="617" x2="318.05" y2="613.5" stroke="#222" stroke-width="1"/>
<text x="311.36" y="630.79" font-size="12.3" textLength="13.68" lengthAdjust="spacingAndGlyphs" fill="#222">25</text>
<g clip-path="url(#cright)">
<path d="M338.7,640 C338.78,645 338.93,660.83 339.2,670 C339.47,679.17 339.88,686.78 340.3,695 C340.72,703.22 340.98,712.05 341.7,719.3 C342.42,726.55 343.3,732.08 344.6,738.5 C345.9,744.92 347.88,751.7 349.5,757.8 C351.12,763.9 352.78,769.73 354.3,775.1 C355.82,780.47 357.43,785.85 358.6,790 C359.77,794.15 360.67,796.8 361.3,800 C361.93,803.2 362.4,805.85 362.4,809.2 C362.4,812.55 361.93,816.3 361.3,820.1 C360.67,823.9 359.82,827.85 358.6,832 C357.38,836.15 355.52,840.33 354,845 C352.48,849.67 350.92,854.83 349.5,860 C348.08,865.17 346.7,870.72 345.5,876 C344.3,881.28 342.83,889.08 342.3,891.7 L338.6,892 L338.6,640 Z" fill="#7f7f7f"/>
<path d="M338.7,640 C338.78,645 338.93,660.83 339.2,670 C339.47,679.17 339.88,686.78 340.3,695 C340.72,703.22 340.98,712.05 341.7,719.3 C342.42,726.55 343.3,732.08 344.6,738.5 C345.9,744.92 347.88,751.7 349.5,757.8 C351.12,763.9 352.78,769.73 354.3,775.1 C355.82,780.47 357.43,785.85 358.6,790 C359.77,794.15 360.67,796.8 361.3,800 C361.93,803.2 362.4,805.85 362.4,809.2 C362.4,812.55 361.93,816.3 361.3,820.1 C360.67,823.9 359.82,827.85 358.6,832 C357.38,836.15 355.52,840.33 354,845 C352.48,849.67 350.92,854.83 349.5,860 C348.08,865.17 346.7,870.72 345.5,876 C344.3,881.28 342.83,889.08 342.3,891.7" fill="none" stroke="#222" stroke-width="1.5"/>
<path d="M338.6,786 C339,786.67 339.1,787.83 341,790 C342.9,792.17 346.5,795.42 350,799 C353.5,802.58 358.33,808.08 362,811.5 C365.67,814.92 368.83,816.95 372,819.5 C375.17,822.05 378,824.47 381,826.8 C384,829.13 387.93,831.63 390,833.5 C392.07,835.37 393.23,836.25 393.4,838 C393.57,839.75 392.17,842.3 391,844 C389.83,845.7 388.4,846.87 386.4,848.2 C384.4,849.53 381.32,850.78 379,852 C376.68,853.22 374.83,854 372.5,855.5 C370.17,857 367.5,859.08 365,861 C362.5,862.92 359.92,864.92 357.5,867 C355.08,869.08 352.38,871.75 350.5,873.5 C348.62,875.25 347.67,875.58 346.2,877.5 C344.73,879.42 342.97,883 341.7,885 C340.43,887 339.12,888.75 338.6,889.5 Z" fill="#cdcdcd" fill-opacity="0.55"/>
<path d="M338.6,786 C339,786.67 339.1,787.83 341,790 C342.9,792.17 346.5,795.42 350,799 C353.5,802.58 358.33,808.08 362,811.5 C365.67,814.92 368.83,816.95 372,819.5 C375.17,822.05 378,824.47 381,826.8 C384,829.13 387.93,831.63 390,833.5 C392.07,835.37 393.23,836.25 393.4,838 C393.57,839.75 392.17,842.3 391,844 C389.83,845.7 388.4,846.87 386.4,848.2 C384.4,849.53 381.32,850.78 379,852 C376.68,853.22 374.83,854 372.5,855.5 C370.17,857 367.5,859.08 365,861 C362.5,862.92 359.92,864.92 357.5,867 C355.08,869.08 352.38,871.75 350.5,873.5 C348.62,875.25 347.67,875.58 346.2,877.5 C344.73,879.42 342.97,883 341.7,885 C340.43,887 339.12,888.75 338.6,889.5" fill="none" stroke="#cfcfcf" stroke-width="1"/>
<path d="M338.6,770 C338.73,771.67 338.72,776.67 339.4,780 C340.08,783.33 341.48,786.83 342.7,790 C343.92,793.17 345.55,795.8 346.7,799 C347.85,802.2 348.52,805.68 349.6,809.2 C350.68,812.72 351.62,816.7 353.2,820.1 C354.78,823.5 357.13,827.02 359.1,829.6 C361.07,832.18 362.23,832.87 365,835.6 C367.77,838.33 372.78,842.85 375.7,846 C378.62,849.15 380.83,852 382.5,854.5 C384.17,857 385.58,858.67 385.7,861 C385.82,863.33 384.98,866.33 383.2,868.5 C381.42,870.67 378.03,872.22 375,874 C371.97,875.78 368.33,877.45 365,879.2 C361.67,880.95 357.83,882.93 355,884.5 C352.17,886.07 349.92,887.35 348,888.6 C346.08,889.85 344.25,891.43 343.5,892" fill="none" stroke="#6a6a6a" stroke-width="1.6"/>
</g>
<line x1="338.6" y1="637.6" x2="338.6" y2="892.5" stroke="#222" stroke-width="1.2"/>
<line x1="338.6" y1="887.8" x2="342.4" y2="887.8" stroke="#222" stroke-width="1"/>
<text x="326.74" y="892.99" font-size="12.3" textLength="6.84" lengthAdjust="spacingAndGlyphs" fill="#222">0</text>
<line x1="338.6" y1="837.8" x2="342.4" y2="837.8" stroke="#222" stroke-width="1"/>
<text x="326.78" y="842.99" font-size="12.3" textLength="6.84" lengthAdjust="spacingAndGlyphs" fill="#222">5</text>
<line x1="338.6" y1="787.8" x2="342.4" y2="787.8" stroke="#222" stroke-width="1"/>
<text x="319.9" y="792.99" font-size="12.3" textLength="13.68" lengthAdjust="spacingAndGlyphs" fill="#222">10</text>
<line x1="338.6" y1="737.8" x2="342.4" y2="737.8" stroke="#222" stroke-width="1"/>
<text x="319.94" y="742.99" font-size="12.3" textLength="13.68" lengthAdjust="spacingAndGlyphs" fill="#222">15</text>
<line x1="338.6" y1="687.8" x2="342.4" y2="687.8" stroke="#222" stroke-width="1"/>
<text x="319.9" y="692.99" font-size="12.3" textLength="13.68" lengthAdjust="spacingAndGlyphs" fill="#222">20</text>
<line x1="338.6" y1="637.8" x2="342.4" y2="637.8" stroke="#222" stroke-width="1"/>
<text x="319.94" y="642.99" font-size="12.3" textLength="13.68" lengthAdjust="spacingAndGlyphs" fill="#222">25</text>
<line x1="74.3" y1="887.5" x2="318.05" y2="637.5" stroke="#111" stroke-width="1.8" stroke-dasharray="6.1 2.97" stroke-dashoffset="2.72"/>
<circle cx="97.9" cy="805.8" r="3.7" fill="#fff" stroke="#111" stroke-width="1.6"/>
<circle cx="95.7" cy="814.5" r="3.7" fill="#fff" stroke="#111" stroke-width="1.6"/>
<circle cx="77.3" cy="838.6" r="3.7" fill="#fff" stroke="#111" stroke-width="1.6"/>
<circle cx="96.9" cy="840.8" r="3.7" fill="#fff" stroke="#111" stroke-width="1.6"/>
<circle cx="100.8" cy="835.8" r="3.7" fill="#fff" stroke="#111" stroke-width="1.6"/>
<circle cx="106.5" cy="836.4" r="3.7" fill="#fff" stroke="#111" stroke-width="1.6"/>
<circle cx="104.1" cy="848.7" r="3.7" fill="#fff" stroke="#111" stroke-width="1.6"/>
<circle cx="147.2" cy="830.8" r="3.7" fill="#fff" stroke="#111" stroke-width="1.6"/>
<circle cx="160.6" cy="853.1" r="3.7" fill="#fff" stroke="#111" stroke-width="1.6"/>
<circle cx="167.7" cy="858.3" r="3.7" fill="#fff" stroke="#111" stroke-width="1.6"/>
<circle cx="134.9" cy="862" r="3.7" fill="#fff" stroke="#111" stroke-width="1.6"/>
<circle cx="90" cy="857.8" r="3.7" fill="#fff" stroke="#111" stroke-width="1.6"/>
<circle cx="79.9" cy="870.6" r="3.7" fill="#fff" stroke="#111" stroke-width="1.6"/>
<circle cx="84.2" cy="868.8" r="3.7" fill="#fff" stroke="#111" stroke-width="1.6"/>
<circle cx="99.2" cy="868.7" r="3.7" fill="#fff" stroke="#111" stroke-width="1.6"/>
<circle cx="86.9" cy="880.6" r="3.7" fill="#fff" stroke="#111" stroke-width="1.6"/>
<circle cx="89" cy="864" r="3.7" fill="#fff" stroke="#111" stroke-width="1.6"/>
<circle cx="94.3" cy="864.7" r="3.7" fill="#fff" stroke="#111" stroke-width="1.6"/>
<circle cx="120.4" cy="869.5" r="3.7" fill="#fff" stroke="#111" stroke-width="1.6"/>
<circle cx="158.4" cy="797.6" r="3.7" fill="#fff" stroke="#111" stroke-width="1.6"/>
<circle cx="213.4" cy="812.8" r="3.7" fill="#d2d2d2" stroke="#111" stroke-width="1.6"/>
<circle cx="143.7" cy="811.9" r="3.7" fill="#d2d2d2" stroke="#111" stroke-width="1.6"/>
<circle cx="149.4" cy="833.4" r="3.7" fill="#d2d2d2" stroke="#111" stroke-width="1.6"/>
<circle cx="121.8" cy="837.8" r="3.7" fill="#d2d2d2" stroke="#111" stroke-width="1.6"/>
<circle cx="138.4" cy="844.5" r="3.7" fill="#d2d2d2" stroke="#111" stroke-width="1.6"/>
<circle cx="124.8" cy="869.8" r="3.7" fill="#d2d2d2" stroke="#111" stroke-width="1.6"/>
<circle cx="92.7" cy="835.4" r="3.7" fill="#d2d2d2" stroke="#111" stroke-width="1.6"/>
<circle cx="89.1" cy="840.3" r="3.7" fill="#d2d2d2" stroke="#111" stroke-width="1.6"/>
<circle cx="113.4" cy="839.5" r="3.7" fill="#d2d2d2" stroke="#111" stroke-width="1.6"/>
<circle cx="115.2" cy="856.2" r="3.7" fill="#d2d2d2" stroke="#111" stroke-width="1.6"/>
<circle cx="120" cy="856.3" r="3.7" fill="#d2d2d2" stroke="#111" stroke-width="1.6"/>
<circle cx="205.5" cy="685.4" r="3.7" fill="#6c6c6c" stroke="#111" stroke-width="1.6"/>
<circle cx="137.5" cy="750.6" r="3.7" fill="#6c6c6c" stroke="#111" stroke-width="1.6"/>
<circle cx="178.7" cy="755" r="3.7" fill="#6c6c6c" stroke="#111" stroke-width="1.6"/>
<circle cx="193.6" cy="785.8" r="3.7" fill="#6c6c6c" stroke="#111" stroke-width="1.6"/>
<circle cx="155.9" cy="792.6" r="3.7" fill="#6c6c6c" stroke="#111" stroke-width="1.6"/>
<circle cx="168.2" cy="807.2" r="3.7" fill="#6c6c6c" stroke="#111" stroke-width="1.6"/>
<circle cx="173.8" cy="804.2" r="3.7" fill="#6c6c6c" stroke="#111" stroke-width="1.6"/>
<circle cx="182.5" cy="807.7" r="3.7" fill="#6c6c6c" stroke="#111" stroke-width="1.6"/>
<circle cx="185.7" cy="819.4" r="3.7" fill="#6c6c6c" stroke="#111" stroke-width="1.6"/>
<circle cx="212" cy="802.8" r="3.7" fill="#6c6c6c" stroke="#111" stroke-width="1.6"/>
<circle cx="225.1" cy="808.4" r="3.7" fill="#6c6c6c" stroke="#111" stroke-width="1.6"/>
<circle cx="136.6" cy="823.8" r="3.7" fill="#6c6c6c" stroke="#111" stroke-width="1.6"/>
<circle cx="125.4" cy="857.1" r="3.7" fill="#6c6c6c" stroke="#111" stroke-width="1.6"/>
<circle cx="107.2" cy="862.1" r="3.7" fill="#6c6c6c" stroke="#111" stroke-width="1.6"/>
<circle cx="195.9" cy="862.9" r="3.7" fill="#6c6c6c" stroke="#111" stroke-width="1.6"/>
<circle cx="86.7" cy="833.4" r="3.7" fill="#6c6c6c" stroke="#111" stroke-width="1.6"/>
<rect x="69.5" y="637.8" width="248.5" height="254.7" fill="none" stroke="#222" stroke-width="1.3"/>
<line x1="74.3" y1="892.5" x2="74.3" y2="888.5" stroke="#222" stroke-width="1.1"/>
<line x1="69.5" y1="887.5" x2="73.5" y2="887.5" stroke="#222" stroke-width="1.1"/>
<text x="71.58" y="905.59" font-size="12.3" textLength="6.84" lengthAdjust="spacingAndGlyphs" fill="#222">0</text>
<text x="58.74" y="892.64" font-size="12.3" textLength="6.84" lengthAdjust="spacingAndGlyphs" fill="#222">0</text>
<line x1="123.05" y1="892.5" x2="123.05" y2="888.5" stroke="#222" stroke-width="1.1"/>
<line x1="69.5" y1="837.5" x2="73.5" y2="837.5" stroke="#222" stroke-width="1.1"/>
<text x="119.44" y="905.59" font-size="12.3" textLength="6.84" lengthAdjust="spacingAndGlyphs" fill="#222">5</text>
<text x="58.78" y="842.64" font-size="12.3" textLength="6.84" lengthAdjust="spacingAndGlyphs" fill="#222">5</text>
<line x1="171.8" y1="892.5" x2="171.8" y2="888.5" stroke="#222" stroke-width="1.1"/>
<line x1="69.5" y1="787.5" x2="73.5" y2="787.5" stroke="#222" stroke-width="1.1"/>
<text x="164.53" y="905.59" font-size="12.3" textLength="13.68" lengthAdjust="spacingAndGlyphs" fill="#222">10</text>
<text x="51.9" y="792.64" font-size="12.3" textLength="13.68" lengthAdjust="spacingAndGlyphs" fill="#222">10</text>
<line x1="220.55" y1="892.5" x2="220.55" y2="888.5" stroke="#222" stroke-width="1.1"/>
<line x1="69.5" y1="737.5" x2="73.5" y2="737.5" stroke="#222" stroke-width="1.1"/>
<text x="213.3" y="905.59" font-size="12.3" textLength="13.68" lengthAdjust="spacingAndGlyphs" fill="#222">15</text>
<text x="51.94" y="742.64" font-size="12.3" textLength="13.68" lengthAdjust="spacingAndGlyphs" fill="#222">15</text>
<line x1="269.3" y1="892.5" x2="269.3" y2="888.5" stroke="#222" stroke-width="1.1"/>
<line x1="69.5" y1="687.5" x2="73.5" y2="687.5" stroke="#222" stroke-width="1.1"/>
<text x="262.19" y="905.59" font-size="12.3" textLength="13.68" lengthAdjust="spacingAndGlyphs" fill="#222">20</text>
<text x="51.9" y="692.64" font-size="12.3" textLength="13.68" lengthAdjust="spacingAndGlyphs" fill="#222">20</text>
<line x1="318.05" y1="892.5" x2="318.05" y2="888.5" stroke="#222" stroke-width="1.1"/>
<line x1="69.5" y1="637.5" x2="73.5" y2="637.5" stroke="#222" stroke-width="1.1"/>
<text x="310.96" y="905.59" font-size="12.3" textLength="13.68" lengthAdjust="spacingAndGlyphs" fill="#222">25</text>
<text x="51.94" y="642.64" font-size="12.3" textLength="13.68" lengthAdjust="spacingAndGlyphs" fill="#222">25</text>
<rect x="74" y="650.8" width="22.6" height="10.9" fill="#7f7f7f"/>
<rect x="74" y="669.2" width="22.6" height="10.8" fill="#e3e3e3"/>
<rect x="74.9" y="689.2" width="20.8" height="9.1" fill="#fff" stroke="#1c3563" stroke-width="1.8"/>
<text x="99.25" y="659.1" font-size="10.61" textLength="21.84" lengthAdjust="spacingAndGlyphs" fill="#111">RBD</text>
<text x="99.2" y="678.4" font-size="11.48" textLength="99.87" lengthAdjust="spacingAndGlyphs" fill="#111">Non-RBD, AHI &gt;=15</text>
<text x="99.19" y="697.5" font-size="11.34" textLength="94.38" lengthAdjust="spacingAndGlyphs" fill="#111">Non-RBD, AHI &lt;15</text>
<text x="71.64" y="550.48" font-size="33.09" textLength="29.55" lengthAdjust="spacingAndGlyphs" font-weight="bold" filter="url(#sh)">d.</text>
<text x="38.1" y="816.13" font-size="19.91" textLength="115.37" lengthAdjust="spacingAndGlyphs" fill="#111" transform="rotate(-90 38.1 816.13)">RSWAi Home</text>
<text x="142.32" y="931.5" font-size="19.33" textLength="93.03" lengthAdjust="spacingAndGlyphs" fill="#111">RSWAi Lab</text>
<polygon points="446.2,712.9 446.2,705.81 451.69,705.81 451.69,642 469.08,642 469.08,627.82 497.91,627.82 497.91,606.55 514.84,606.55 514.84,599.46 572.04,599.46 572.04,592.37 589.66,592.37 589.66,585.28 607.5,585.28 607.5,571.1 675,571.1 675,712.9" fill="#eceeee"/>
<polyline points="446.2,712.9 446.2,705.81 451.69,705.81 451.69,642 469.08,642 469.08,627.82 497.91,627.82 497.91,606.55 514.84,606.55 514.84,599.46 572.04,599.46 572.04,592.37 589.66,592.37 589.66,585.28 607.5,585.28 607.5,571.1 675,571.1" fill="none" stroke="#979797" stroke-width="1.5"/>
<line x1="445.8" y1="712.9" x2="675.2" y2="570.1" stroke="#2a2a2a" stroke-width="1.6" stroke-dasharray="4.6 2.4"/>
<circle cx="497.8" cy="605.9" r="7" fill="#383838"/>
<rect x="445.9" y="569.9" width="229.2" height="143.7" fill="none" stroke="#333" stroke-width="1.3"/>
<line x1="446.2" y1="713.6" x2="446.2" y2="709.6" stroke="#222" stroke-width="1.1"/>
<line x1="445.9" y1="712.9" x2="449.9" y2="712.9" stroke="#222" stroke-width="1.1"/>
<text x="433.6" y="727.36" font-size="12.5" textLength="18.59" lengthAdjust="spacingAndGlyphs" fill="#222">0.0</text>
<text x="422.93" y="715.76" font-size="12.5" textLength="18.59" lengthAdjust="spacingAndGlyphs" fill="#222">0.0</text>
<line x1="491.96" y1="713.6" x2="491.96" y2="709.6" stroke="#222" stroke-width="1.1"/>
<line x1="445.9" y1="684.54" x2="449.9" y2="684.54" stroke="#222" stroke-width="1.1"/>
<text x="482.48" y="727.36" font-size="12.5" textLength="18.59" lengthAdjust="spacingAndGlyphs" fill="#222">0.2</text>
<text x="423.08" y="688.76" font-size="12.5" textLength="18.59" lengthAdjust="spacingAndGlyphs" fill="#222">0.2</text>
<line x1="537.72" y1="713.6" x2="537.72" y2="709.6" stroke="#222" stroke-width="1.1"/>
<line x1="445.9" y1="656.18" x2="449.9" y2="656.18" stroke="#222" stroke-width="1.1"/>
<text x="528.04" y="727.36" font-size="12.5" textLength="18.59" lengthAdjust="spacingAndGlyphs" fill="#222">0.4</text>
<text x="422.8" y="660.96" font-size="12.5" textLength="18.59" lengthAdjust="spacingAndGlyphs" fill="#222">0.4</text>
<line x1="583.48" y1="713.6" x2="583.48" y2="709.6" stroke="#222" stroke-width="1.1"/>
<line x1="445.9" y1="627.82" x2="449.9" y2="627.82" stroke="#222" stroke-width="1.1"/>
<text x="575.34" y="727.36" font-size="12.5" textLength="18.59" lengthAdjust="spacingAndGlyphs" fill="#222">0.6</text>
<text x="422.99" y="631.76" font-size="12.5" textLength="18.59" lengthAdjust="spacingAndGlyphs" fill="#222">0.6</text>
<line x1="629.24" y1="713.6" x2="629.24" y2="709.6" stroke="#222" stroke-width="1.1"/>
<line x1="445.9" y1="599.46" x2="449.9" y2="599.46" stroke="#222" stroke-width="1.1"/>
<text x="621.43" y="727.36" font-size="12.5" textLength="18.59" lengthAdjust="spacingAndGlyphs" fill="#222">0.8</text>
<text x="422.99" y="603.76" font-size="12.5" textLength="18.59" lengthAdjust="spacingAndGlyphs" fill="#222">0.8</text>
<line x1="675" y1="713.6" x2="675" y2="709.6" stroke="#222" stroke-width="1.1"/>
<line x1="445.9" y1="571.1" x2="449.9" y2="571.1" stroke="#222" stroke-width="1.1"/>
<text x="664.96" y="727.36" font-size="12.5" textLength="18.59" lengthAdjust="spacingAndGlyphs" fill="#222">1.0</text>
<text x="422.93" y="573.96" font-size="12.5" textLength="18.59" lengthAdjust="spacingAndGlyphs" fill="#222">1.0</text>
<text x="413.59" y="550.97" font-size="34.01" textLength="28.03" lengthAdjust="spacingAndGlyphs" font-weight="bold" filter="url(#sh)">e.</text>
<text x="412" y="696.3" font-size="20.2" textLength="88.83" lengthAdjust="spacingAndGlyphs" fill="#111" transform="rotate(-90 412 696.3)">Sensitivity</text>
<text x="496.88" y="747.8" font-size="19.04" textLength="107.66" lengthAdjust="spacingAndGlyphs" fill="#111">1-Specificity</text>
<rect x="445" y="764.3" width="114.8" height="60.8" fill="#808080"/>
<rect x="561" y="764.2" width="115" height="60.7" fill="#e6e6e6"/>
<rect x="445" y="830.1" width="114.8" height="61.2" fill="#f2f2f2"/>
<rect x="561" y="830.2" width="115" height="61.1" fill="#d1d1d1"/>
<text x="468.89" y="803.8" font-size="20.2" textLength="66.5" lengthAdjust="spacingAndGlyphs">78.57%</text>
<text x="585.52" y="804.2" font-size="20.49" textLength="65.87" lengthAdjust="spacingAndGlyphs">21.43%</text>
<text x="468.69" y="868.9" font-size="19.91" textLength="67.32" lengthAdjust="spacingAndGlyphs">16.67%</text>
<text x="585.25" y="868.9" font-size="19.91" textLength="66.65" lengthAdjust="spacingAndGlyphs">83.33%</text>
<line x1="445.2" y1="795.9" x2="451.4" y2="795.9" stroke="#444" stroke-width="1.1"/>
<line x1="445.2" y1="860.5" x2="451.4" y2="860.5" stroke="#333" stroke-width="1.1"/>
<line x1="497.9" y1="891.3" x2="497.9" y2="885.6" stroke="#333" stroke-width="1.1"/>
<line x1="617.8" y1="891.3" x2="617.8" y2="885.6" stroke="#333" stroke-width="1.1"/>
<text x="436.1" y="822.91" font-size="11.77" textLength="47.34" lengthAdjust="spacingAndGlyphs" fill="#111" transform="rotate(-90 436.1 822.91)">Non-RBD</text>
<text x="434.9" y="871.75" font-size="11.77" textLength="21.84" lengthAdjust="spacingAndGlyphs" fill="#111" transform="rotate(-90 434.9 871.75)">RBD</text>
<text x="473.29" y="903.2" font-size="11.34" textLength="47.65" lengthAdjust="spacingAndGlyphs" fill="#111">Non-RBD</text>
<text x="605.46" y="903.2" font-size="11.34" textLength="21.74" lengthAdjust="spacingAndGlyphs" fill="#111">RBD</text>
<text x="411.6" y="838.26" font-size="19.62" textLength="46.53" lengthAdjust="spacingAndGlyphs" fill="#111" transform="rotate(-90 411.6 838.26)">Label</text>
<text x="509.55" y="931.5" font-size="20.2" textLength="84.84" lengthAdjust="spacingAndGlyphs" fill="#111">Predicted</text>
<text x="417.44" y="766.5" font-size="33.95" textLength="19.9" lengthAdjust="spacingAndGlyphs" font-weight="bold" filter="url(#sh)">f.</text>
</svg>
</body></html>
